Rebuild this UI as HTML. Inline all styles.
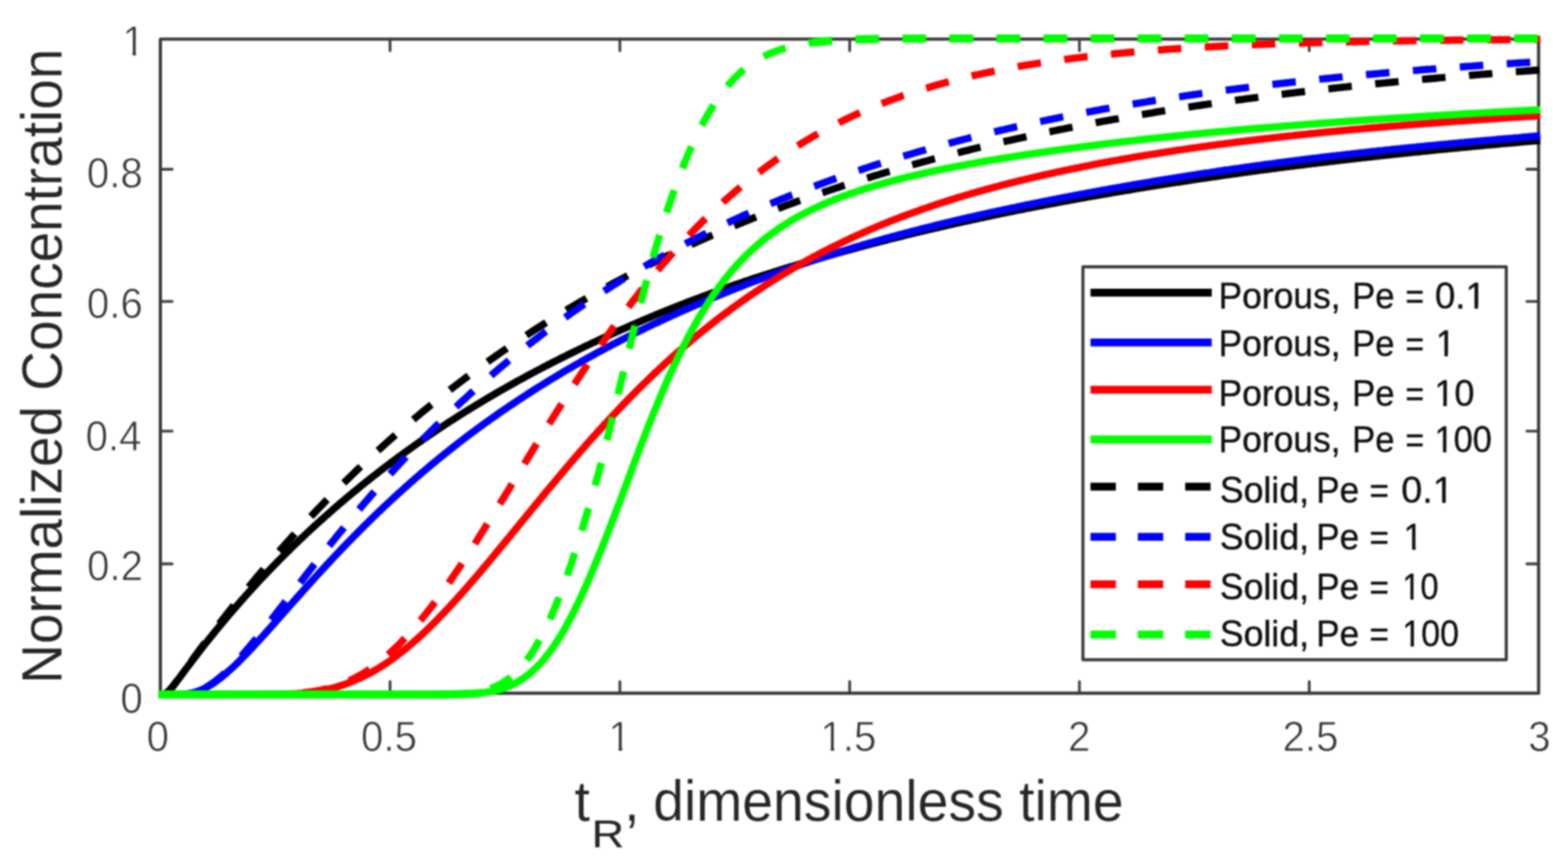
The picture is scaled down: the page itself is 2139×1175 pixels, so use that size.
<!DOCTYPE html>
<html lang="en">
<head>
<meta charset="utf-8">
<title>Normalized Concentration vs dimensionless time</title>
<style>
html,body{margin:0;padding:0;background:#fff;}
body{width:2139px;height:1175px;overflow:hidden;font-family:"Liberation Sans",Arial,Helvetica,sans-serif;}
svg{display:block;filter:blur(1.1px);}
</style>
</head>
<body>
<svg xmlns="http://www.w3.org/2000/svg" width="2139" height="1175" viewBox="0 0 2139 1175">
<rect width="2139" height="1175" fill="#ffffff"/>
<g fill="none" stroke-linejoin="round">
<path d="M532.1,946.05 v-16.0 M532.1,53.35 v16.0 M845.6,946.05 v-16.0 M845.6,53.35 v16.0 M1159.1,946.05 v-16.0 M1159.1,53.35 v16.0 M1472.5,946.05 v-16.0 M1472.5,53.35 v16.0 M1786.0,946.05 v-16.0 M1786.0,53.35 v16.0 M218.8,769.50 h16.0 M2098.9,769.50 h-16.0 M218.8,588.35 h16.0 M2098.9,588.35 h-16.0 M218.8,411.45 h16.0 M2098.9,411.45 h-16.0 M218.8,231.00 h16.0 M2098.9,231.00 h-16.0" stroke="#424242" stroke-width="3.8" stroke-linecap="round"/>
<rect x="218.8" y="53.35" width="1880.10" height="892.70" stroke="#3a3a3a" stroke-width="4.4"/>
</g>
<g font-family="'Liberation Sans', Arial, Helvetica, sans-serif" font-size="56.5" fill="#363636" stroke="#ffffff" stroke-width="0.9" stroke-linejoin="round">
<text><tspan x="199.88" y="1025.20" textLength="30.54" lengthAdjust="spacingAndGlyphs">0</tspan></text>
<text><tspan x="492.51" y="1025.20" textLength="76.34" lengthAdjust="spacingAndGlyphs">0.5</tspan></text>
<text><tspan x="830.09" y="1025.20" textLength="30.54" lengthAdjust="spacingAndGlyphs">1</tspan></text>
<text><tspan x="1119.34" y="1025.20" textLength="76.34" lengthAdjust="spacingAndGlyphs">1.5</tspan></text>
<text><tspan x="1457.08" y="1025.20" textLength="30.54" lengthAdjust="spacingAndGlyphs">2</tspan></text>
<text><tspan x="1749.45" y="1025.20" textLength="76.34" lengthAdjust="spacingAndGlyphs">2.5</tspan></text>
<text><tspan x="2084.84" y="1025.20" textLength="30.54" lengthAdjust="spacingAndGlyphs">3</tspan></text>
<text><tspan x="164.25" y="973.10" textLength="30.54" lengthAdjust="spacingAndGlyphs">0</tspan></text>
<text><tspan x="118.77" y="791.80" textLength="76.34" lengthAdjust="spacingAndGlyphs">0.2</tspan></text>
<text><tspan x="116.72" y="614.90" textLength="76.34" lengthAdjust="spacingAndGlyphs">0.4</tspan></text>
<text><tspan x="118.42" y="434.30" textLength="76.34" lengthAdjust="spacingAndGlyphs">0.6</tspan></text>
<text><tspan x="118.39" y="256.40" textLength="76.34" lengthAdjust="spacingAndGlyphs">0.8</tspan></text>
<text><tspan x="166.89" y="76.00" textLength="30.54" lengthAdjust="spacingAndGlyphs">1</tspan></text>
</g>
<g font-family="'Liberation Sans', Arial, Helvetica, sans-serif" font-size="77.0" fill="#262626" stroke="#ffffff" stroke-width="0.2" stroke-linejoin="round">
<text><tspan x="783.85" y="1120.00" textLength="21.03" lengthAdjust="spacingAndGlyphs">t</tspan><tspan font-size="52.3" stroke="#262626" stroke-width="0.3" x="806.99" y="1155.50" textLength="44.52" lengthAdjust="spacingAndGlyphs">R</tspan><tspan x="851.49" y="1120.00" textLength="21.03" lengthAdjust="spacingAndGlyphs">,</tspan> <tspan x="891.03" y="1120.00" textLength="641.72" lengthAdjust="spacingAndGlyphs">dimensionless time</tspan></text>
<text transform="translate(83.5 927.6) rotate(-90)" x="-5.55" y="0" textLength="866.82" lengthAdjust="spacingAndGlyphs">Normalized Concentration</text>
</g>
<g fill="none" stroke-linejoin="round" stroke-linecap="butt">
<path d="M216.6,947.7 L218.6,947.7 L221.7,947.6 L224.9,946.9 L228.0,944.9 L231.1,942.0 L234.3,938.5 L237.4,934.7 L240.5,930.6 L243.7,926.4 L246.8,922.2 L249.9,918.0 L253.1,913.8 L256.2,909.6 L259.4,905.5 L262.5,901.3 L265.6,897.2 L268.8,893.1 L271.9,889.0 L275.0,885.0 L278.2,881.0 L281.3,877.0 L284.4,873.1 L287.6,869.2 L290.7,865.3 L293.8,861.4 L297.0,857.6 L300.1,853.8 L303.2,850.0 L306.4,846.2 L309.5,842.5 L312.6,838.8 L315.8,835.2 L318.9,831.5 L322.1,827.9 L325.2,824.3 L328.3,820.7 L331.5,817.2 L334.6,813.6 L337.7,810.2 L340.9,806.7 L344.0,803.2 L347.1,799.8 L350.3,796.4 L353.4,793.0 L356.5,789.7 L359.7,786.3 L362.8,783.0 L365.9,779.7 L369.1,776.5 L372.2,773.2 L375.4,770.0 L378.5,766.8 L381.6,763.6 L384.8,760.4 L387.9,757.3 L391.0,754.2 L394.2,751.1 L397.3,748.0 L400.4,745.0 L403.6,741.9 L406.7,738.9 L409.8,735.9 L413.0,732.9 L416.1,730.0 L419.2,727.0 L422.4,724.1 L425.5,721.2 L428.6,718.3 L431.8,715.4 L434.9,712.6 L438.1,709.8 L441.2,707.0 L444.3,704.2 L447.5,701.4 L450.6,698.6 L453.7,695.9 L456.9,693.1 L460.0,690.4 L463.1,687.7 L466.3,685.1 L469.4,682.4 L472.5,679.7 L475.7,677.1 L478.8,674.5 L481.9,671.9 L485.1,669.3 L488.2,666.8 L491.3,664.2 L494.5,661.7 L497.6,659.1 L500.8,656.6 L503.9,654.1 L507.0,651.7 L510.2,649.2 L513.3,646.8 L516.4,644.3 L519.6,641.9 L522.7,639.5 L525.8,637.1 L529.0,634.7 L532.1,632.4 L535.2,630.0 L538.4,627.7 L541.5,625.3 L544.6,623.0 L547.8,620.7 L550.9,618.5 L554.0,616.2 L557.2,613.9 L560.3,611.7 L563.5,609.5 L566.6,607.2 L569.7,605.0 L572.9,602.8 L576.0,600.7 L579.1,598.5 L582.3,596.3 L585.4,594.2 L588.5,592.0 L591.7,589.9 L594.8,587.8 L597.9,585.7 L601.1,583.6 L604.2,581.6 L607.3,579.5 L610.5,577.4 L613.6,575.4 L616.7,573.4 L619.9,571.4 L623.0,569.4 L626.1,567.4 L629.3,565.4 L632.4,563.4 L635.6,561.4 L638.7,559.5 L641.8,557.6 L645.0,555.6 L648.1,553.7 L651.2,551.8 L654.4,549.9 L657.5,548.0 L660.6,546.1 L663.8,544.3 L666.9,542.4 L670.0,540.6 L673.2,538.7 L676.3,536.9 L679.4,535.1 L682.6,533.3 L685.7,531.5 L688.9,529.7 L692.0,527.9 L695.1,526.2 L698.3,524.4 L701.4,522.7 L704.5,520.9 L707.7,519.2 L710.8,517.5 L713.9,515.8 L717.1,514.0 L720.2,512.4 L723.3,510.7 L726.5,509.0 L729.6,507.3 L732.7,505.7 L735.9,504.0 L739.0,502.4 L742.1,500.7 L745.3,499.1 L748.4,497.5 L751.5,495.9 L754.7,494.3 L757.8,492.7 L761.0,491.1 L764.1,489.5 L767.2,487.9 L770.4,486.4 L773.5,484.8 L776.6,483.3 L779.8,481.7 L782.9,480.2 L786.0,478.7 L789.2,477.1 L792.3,475.6 L795.4,474.1 L798.6,472.6 L801.7,471.1 L804.8,469.6 L808.0,468.1 L811.1,466.7 L814.3,465.2 L817.4,463.7 L820.5,462.3 L823.7,460.8 L826.8,459.4 L829.9,457.9 L833.1,456.5 L836.2,455.1 L839.3,453.7 L842.5,452.3 L845.6,450.8 L848.7,449.4 L851.9,448.1 L855.0,446.7 L858.1,445.3 L861.3,443.9 L864.4,442.5 L867.5,441.2 L870.7,439.8 L873.8,438.5 L877.0,437.1 L880.1,435.8 L883.2,434.5 L886.4,433.2 L889.5,431.8 L892.6,430.5 L895.8,429.2 L898.9,427.9 L902.0,426.7 L905.2,425.4 L908.3,424.1 L911.4,422.8 L914.6,421.6 L917.7,420.3 L920.8,419.1 L924.0,417.8 L927.1,416.6 L930.2,415.4 L933.4,414.2 L936.5,412.9 L939.7,411.7 L942.8,410.5 L945.9,409.3 L949.1,408.2 L952.2,407.0 L955.3,405.8 L958.5,404.6 L961.6,403.5 L964.7,402.3 L967.9,401.1 L971.0,400.0 L974.1,398.9 L977.3,397.7 L980.4,396.6 L983.5,395.5 L986.7,394.3 L989.8,393.2 L992.9,392.1 L996.1,391.0 L999.2,389.9 L1002.4,388.8 L1005.5,387.7 L1008.6,386.7 L1011.8,385.6 L1014.9,384.5 L1018.0,383.4 L1021.2,382.4 L1024.3,381.3 L1027.4,380.3 L1030.6,379.2 L1033.7,378.2 L1036.8,377.2 L1040.0,376.1 L1043.1,375.1 L1046.2,374.1 L1049.4,373.1 L1052.5,372.1 L1055.6,371.1 L1058.8,370.1 L1061.9,369.2 L1065.0,368.2 L1068.2,367.2 L1071.3,366.2 L1074.5,365.3 L1077.6,364.3 L1080.7,363.4 L1083.9,362.4 L1087.0,361.5 L1090.1,360.6 L1093.3,359.6 L1096.4,358.7 L1099.5,357.8 L1102.7,356.9 L1105.8,355.9 L1108.9,355.0 L1112.1,354.1 L1115.2,353.2 L1118.3,352.3 L1121.5,351.4 L1124.6,350.5 L1127.8,349.7 L1130.9,348.8 L1134.0,347.9 L1137.2,347.0 L1140.3,346.1 L1143.4,345.3 L1146.6,344.4 L1149.7,343.5 L1152.8,342.7 L1156.0,341.8 L1159.1,340.9 L1162.2,340.1 L1165.4,339.2 L1168.5,338.4 L1171.6,337.5 L1174.8,336.7 L1177.9,335.8 L1181.0,335.0 L1184.2,334.2 L1187.3,333.3 L1190.5,332.5 L1193.6,331.7 L1196.7,330.9 L1199.9,330.0 L1203.0,329.2 L1206.1,328.4 L1209.3,327.6 L1212.4,326.8 L1215.5,326.0 L1218.7,325.2 L1221.8,324.4 L1224.9,323.7 L1228.1,322.9 L1231.2,322.1 L1234.3,321.3 L1237.5,320.5 L1240.6,319.8 L1243.7,319.0 L1246.9,318.2 L1250.0,317.5 L1253.2,316.7 L1256.3,316.0 L1259.4,315.2 L1262.6,314.5 L1265.7,313.7 L1268.8,313.0 L1272.0,312.3 L1275.1,311.5 L1278.2,310.8 L1281.4,310.1 L1284.5,309.3 L1287.6,308.6 L1290.8,307.9 L1293.9,307.2 L1297.0,306.5 L1300.2,305.8 L1303.3,305.0 L1306.4,304.3 L1309.6,303.6 L1312.7,302.9 L1315.8,302.2 L1319.0,301.6 L1322.1,300.9 L1325.3,300.2 L1328.4,299.5 L1331.5,298.8 L1334.7,298.1 L1337.8,297.5 L1340.9,296.8 L1344.1,296.1 L1347.2,295.5 L1350.3,294.8 L1353.5,294.1 L1356.6,293.5 L1359.7,292.8 L1362.9,292.2 L1366.0,291.5 L1369.1,290.9 L1372.3,290.2 L1375.4,289.6 L1378.5,288.9 L1381.7,288.3 L1384.8,287.7 L1388.0,287.0 L1391.1,286.4 L1394.2,285.8 L1397.4,285.2 L1400.5,284.5 L1403.6,283.9 L1406.8,283.3 L1409.9,282.7 L1413.0,282.1 L1416.2,281.5 L1419.3,280.9 L1422.4,280.3 L1425.6,279.7 L1428.7,279.1 L1431.8,278.5 L1435.0,277.9 L1438.1,277.3 L1441.2,276.7 L1444.4,276.1 L1447.5,275.5 L1450.7,274.9 L1453.8,274.4 L1456.9,273.8 L1460.1,273.2 L1463.2,272.6 L1466.3,272.1 L1469.5,271.5 L1472.6,270.9 L1475.7,270.4 L1478.9,269.8 L1482.0,269.2 L1485.1,268.7 L1488.3,268.1 L1491.4,267.6 L1494.5,267.0 L1497.7,266.5 L1500.8,265.9 L1503.9,265.4 L1507.1,264.8 L1510.2,264.3 L1513.4,263.8 L1516.5,263.2 L1519.6,262.7 L1522.8,262.1 L1525.9,261.6 L1529.0,261.1 L1532.2,260.6 L1535.3,260.0 L1538.4,259.5 L1541.6,259.0 L1544.7,258.5 L1547.8,257.9 L1551.0,257.4 L1554.1,256.9 L1557.2,256.4 L1560.4,255.9 L1563.5,255.4 L1566.6,254.9 L1569.8,254.4 L1572.9,253.9 L1576.1,253.4 L1579.2,252.9 L1582.3,252.4 L1585.5,251.9 L1588.6,251.4 L1591.7,250.9 L1594.9,250.4 L1598.0,249.9 L1601.1,249.4 L1604.3,248.9 L1607.4,248.5 L1610.5,248.0 L1613.7,247.5 L1616.8,247.0 L1619.9,246.5 L1623.1,246.1 L1626.2,245.6 L1629.3,245.1 L1632.5,244.7 L1635.6,244.2 L1638.8,243.7 L1641.9,243.3 L1645.0,242.8 L1648.2,242.3 L1651.3,241.9 L1654.4,241.4 L1657.6,241.0 L1660.7,240.5 L1663.8,240.1 L1667.0,239.6 L1670.1,239.2 L1673.2,238.7 L1676.4,238.3 L1679.5,237.8 L1682.6,237.4 L1685.8,237.0 L1688.9,236.5 L1692.0,236.1 L1695.2,235.6 L1698.3,235.2 L1701.5,234.8 L1704.6,234.4 L1707.7,233.9 L1710.9,233.5 L1714.0,233.1 L1717.1,232.7 L1720.3,232.2 L1723.4,231.8 L1726.5,231.4 L1729.7,231.0 L1732.8,230.6 L1735.9,230.2 L1739.1,229.8 L1742.2,229.3 L1745.3,228.9 L1748.5,228.5 L1751.6,228.1 L1754.8,227.7 L1757.9,227.3 L1761.0,226.9 L1764.2,226.5 L1767.3,226.1 L1770.4,225.7 L1773.6,225.4 L1776.7,225.0 L1779.8,224.6 L1783.0,224.2 L1786.1,223.8 L1789.2,223.4 L1792.4,223.0 L1795.5,222.7 L1798.6,222.3 L1801.8,221.9 L1804.9,221.5 L1808.0,221.2 L1811.2,220.8 L1814.3,220.4 L1817.5,220.0 L1820.6,219.7 L1823.7,219.3 L1826.9,218.9 L1830.0,218.6 L1833.1,218.2 L1836.3,217.9 L1839.4,217.5 L1842.5,217.1 L1845.7,216.8 L1848.8,216.4 L1851.9,216.1 L1855.1,215.7 L1858.2,215.4 L1861.3,215.0 L1864.5,214.7 L1867.6,214.3 L1870.7,214.0 L1873.9,213.6 L1877.0,213.3 L1880.1,212.9 L1883.3,212.6 L1886.4,212.2 L1889.6,211.9 L1892.7,211.6 L1895.8,211.2 L1899.0,210.9 L1902.1,210.6 L1905.2,210.2 L1908.4,209.9 L1911.5,209.6 L1914.6,209.2 L1917.8,208.9 L1920.9,208.6 L1924.0,208.3 L1927.2,207.9 L1930.3,207.6 L1933.4,207.3 L1936.6,207.0 L1939.7,206.6 L1942.8,206.3 L1946.0,206.0 L1949.1,205.7 L1952.3,205.4 L1955.4,205.1 L1958.5,204.7 L1961.7,204.4 L1964.8,204.1 L1967.9,203.8 L1971.1,203.5 L1974.2,203.2 L1977.3,202.9 L1980.5,202.6 L1983.6,202.3 L1986.7,202.0 L1989.9,201.7 L1993.0,201.4 L1996.1,201.1 L1999.3,200.8 L2002.4,200.5 L2005.5,200.2 L2008.7,199.9 L2011.8,199.6 L2015.0,199.3 L2018.1,199.0 L2021.2,198.7 L2024.4,198.4 L2027.5,198.1 L2030.6,197.8 L2033.8,197.6 L2036.9,197.3 L2040.0,197.0 L2043.2,196.7 L2046.3,196.4 L2049.4,196.1 L2052.6,195.9 L2055.7,195.6 L2058.8,195.3 L2062.0,195.0 L2065.1,194.7 L2068.2,194.5 L2071.4,194.2 L2074.5,193.9 L2077.7,193.6 L2080.8,193.4 L2083.9,193.1 L2087.1,192.8 L2090.2,192.5 L2093.3,192.3 L2096.5,192.0 L2099.6,191.7 L2101.3,191.6" stroke="#000000" stroke-width="9.9"/>
<path d="M216.6,947.7 L218.6,947.7 L221.7,947.7 L224.9,947.0 L228.0,945.0 L231.1,942.1 L234.3,938.5 L237.4,934.6 L240.5,930.5 L243.7,926.2 L246.8,921.9 L249.9,917.6 L253.1,913.3 L256.2,908.9 L259.4,904.6 L262.5,900.3 L265.6,896.0 L268.8,891.7 L271.9,887.5 L275.0,883.2 L278.2,879.0 L281.3,874.8 L284.4,870.7 L287.6,866.5 L290.7,862.4 L293.8,858.3 L297.0,854.2 L300.1,850.1 L303.2,846.1 L306.4,842.1 L309.5,838.1 L312.6,834.1 L315.8,830.1 L318.9,826.2 L322.1,822.2 L325.2,818.3 L328.3,814.5 L331.5,810.6 L334.6,806.8 L337.7,802.9 L340.9,799.1 L344.0,795.3 L347.1,791.6 L350.3,787.8 L353.4,784.1 L356.5,780.4 L359.7,776.7 L362.8,773.0 L365.9,769.4 L369.1,765.7 L372.2,762.1 L375.4,758.5 L378.5,754.9 L381.6,751.4 L384.8,747.8 L387.9,744.3 L391.0,740.8 L394.2,737.3 L397.3,733.8 L400.4,730.4 L403.6,726.9 L406.7,723.5 L409.8,720.1 L413.0,716.7 L416.1,713.4 L419.2,710.0 L422.4,706.7 L425.5,703.4 L428.6,700.1 L431.8,696.8 L434.9,693.5 L438.1,690.3 L441.2,687.0 L444.3,683.8 L447.5,680.6 L450.6,677.4 L453.7,674.3 L456.9,671.1 L460.0,668.0 L463.1,664.8 L466.3,661.7 L469.4,658.7 L472.5,655.6 L475.7,652.5 L478.8,649.5 L481.9,646.5 L485.1,643.4 L488.2,640.4 L491.3,637.5 L494.5,634.5 L497.6,631.5 L500.8,628.6 L503.9,625.7 L507.0,622.8 L510.2,619.9 L513.3,617.0 L516.4,614.2 L519.6,611.3 L522.7,608.5 L525.8,605.7 L529.0,602.8 L532.1,600.1 L535.2,597.3 L538.4,594.5 L541.5,591.8 L544.6,589.0 L547.8,586.3 L550.9,583.6 L554.0,580.9 L557.2,578.2 L560.3,575.6 L563.5,572.9 L566.6,570.3 L569.7,567.7 L572.9,565.0 L576.0,562.4 L579.1,559.9 L582.3,557.3 L585.4,554.7 L588.5,552.2 L591.7,549.6 L594.8,547.1 L597.9,544.6 L601.1,542.1 L604.2,539.6 L607.3,537.2 L610.5,534.7 L613.6,532.3 L616.7,529.8 L619.9,527.4 L623.0,525.0 L626.1,522.6 L629.3,520.2 L632.4,517.8 L635.6,515.5 L638.7,513.1 L641.8,510.8 L645.0,508.5 L648.1,506.2 L651.2,503.9 L654.4,501.6 L657.5,499.3 L660.6,497.0 L663.8,494.8 L666.9,492.5 L670.0,490.3 L673.2,488.1 L676.3,485.9 L679.4,483.7 L682.6,481.5 L685.7,479.3 L688.9,477.2 L692.0,475.0 L695.1,472.9 L698.3,470.7 L701.4,468.6 L704.5,466.5 L707.7,464.4 L710.8,462.3 L713.9,460.2 L717.1,458.2 L720.2,456.1 L723.3,454.1 L726.5,452.0 L729.6,450.0 L732.7,448.0 L735.9,446.0 L739.0,444.0 L742.1,442.0 L745.3,440.0 L748.4,438.1 L751.5,436.1 L754.7,434.2 L757.8,432.2 L761.0,430.3 L764.1,428.4 L767.2,426.5 L770.4,424.6 L773.5,422.7 L776.6,420.8 L779.8,418.9 L782.9,417.1 L786.0,415.2 L789.2,413.4 L792.3,411.6 L795.4,409.8 L798.6,407.9 L801.7,406.1 L804.8,404.3 L808.0,402.6 L811.1,400.8 L814.3,399.0 L817.4,397.3 L820.5,395.5 L823.7,393.8 L826.8,392.0 L829.9,390.3 L833.1,388.6 L836.2,386.9 L839.3,385.2 L842.5,383.5 L845.6,381.8 L848.7,380.2 L851.9,378.5 L855.0,376.9 L858.1,375.2 L861.3,373.6 L864.4,372.0 L867.5,370.3 L870.7,368.7 L873.8,367.1 L877.0,365.5 L880.1,363.9 L883.2,362.4 L886.4,360.8 L889.5,359.2 L892.6,357.7 L895.8,356.1 L898.9,354.6 L902.0,353.0 L905.2,351.5 L908.3,350.0 L911.4,348.5 L914.6,347.0 L917.7,345.5 L920.8,344.0 L924.0,342.5 L927.1,341.1 L930.2,339.6 L933.4,338.1 L936.5,336.7 L939.7,335.3 L942.8,333.8 L945.9,332.4 L949.1,331.0 L952.2,329.6 L955.3,328.2 L958.5,326.8 L961.6,325.4 L964.7,324.0 L967.9,322.6 L971.0,321.2 L974.1,319.9 L977.3,318.5 L980.4,317.2 L983.5,315.8 L986.7,314.5 L989.8,313.2 L992.9,311.8 L996.1,310.5 L999.2,309.2 L1002.4,307.9 L1005.5,306.6 L1008.6,305.3 L1011.8,304.1 L1014.9,302.8 L1018.0,301.5 L1021.2,300.3 L1024.3,299.0 L1027.4,297.7 L1030.6,296.5 L1033.7,295.3 L1036.8,294.0 L1040.0,292.8 L1043.1,291.6 L1046.2,290.4 L1049.4,289.2 L1052.5,288.0 L1055.6,286.8 L1058.8,285.6 L1061.9,284.4 L1065.0,283.2 L1068.2,282.1 L1071.3,280.9 L1074.5,279.7 L1077.6,278.6 L1080.7,277.4 L1083.9,276.3 L1087.0,275.2 L1090.1,274.0 L1093.3,272.9 L1096.4,271.8 L1099.5,270.7 L1102.7,269.6 L1105.8,268.5 L1108.9,267.4 L1112.1,266.3 L1115.2,265.2 L1118.3,264.1 L1121.5,263.1 L1124.6,262.0 L1127.8,260.9 L1130.9,259.9 L1134.0,258.8 L1137.2,257.8 L1140.3,256.7 L1143.4,255.7 L1146.6,254.7 L1149.7,253.6 L1152.8,252.6 L1156.0,251.6 L1159.1,250.6 L1162.2,249.6 L1165.4,248.6 L1168.5,247.6 L1171.6,246.6 L1174.8,245.6 L1177.9,244.6 L1181.0,243.7 L1184.2,242.7 L1187.3,241.7 L1190.5,240.8 L1193.6,239.8 L1196.7,238.9 L1199.9,237.9 L1203.0,237.0 L1206.1,236.1 L1209.3,235.1 L1212.4,234.2 L1215.5,233.3 L1218.7,232.4 L1221.8,231.4 L1224.9,230.5 L1228.1,229.6 L1231.2,228.7 L1234.3,227.8 L1237.5,227.0 L1240.6,226.1 L1243.7,225.2 L1246.9,224.3 L1250.0,223.4 L1253.2,222.6 L1256.3,221.7 L1259.4,220.9 L1262.6,220.0 L1265.7,219.2 L1268.8,218.3 L1272.0,217.5 L1275.1,216.6 L1278.2,215.8 L1281.4,215.0 L1284.5,214.1 L1287.6,213.3 L1290.8,212.5 L1293.9,211.7 L1297.0,210.9 L1300.2,210.1 L1303.3,209.3 L1306.4,208.5 L1309.6,207.7 L1312.7,206.9 L1315.8,206.1 L1319.0,205.4 L1322.1,204.6 L1325.3,203.8 L1328.4,203.0 L1331.5,202.3 L1334.7,201.5 L1337.8,200.8 L1340.9,200.0 L1344.1,199.3 L1347.2,198.5 L1350.3,197.8 L1353.5,197.0 L1356.6,196.3 L1359.7,195.6 L1362.9,194.9 L1366.0,194.1 L1369.1,193.4 L1372.3,192.7 L1375.4,192.0 L1378.5,191.3 L1381.7,190.6 L1384.8,189.9 L1388.0,189.2 L1391.1,188.5 L1394.2,187.8 L1397.4,187.1 L1400.5,186.4 L1403.6,185.7 L1406.8,185.1 L1409.9,184.4 L1413.0,183.7 L1416.2,183.1 L1419.3,182.4 L1422.4,181.7 L1425.6,181.1 L1428.7,180.4 L1431.8,179.8 L1435.0,179.1 L1438.1,178.5 L1441.2,177.9 L1444.4,177.2 L1447.5,176.6 L1450.7,176.0 L1453.8,175.3 L1456.9,174.7 L1460.1,174.1 L1463.2,173.5 L1466.3,172.9 L1469.5,172.3 L1472.6,171.6 L1475.7,171.0 L1478.9,170.4 L1482.0,169.8 L1485.1,169.3 L1488.3,168.7 L1491.4,168.1 L1494.5,167.5 L1497.7,166.9 L1500.8,166.3 L1503.9,165.7 L1507.1,165.2 L1510.2,164.6 L1513.4,164.0 L1516.5,163.5 L1519.6,162.9 L1522.8,162.3 L1525.9,161.8 L1529.0,161.2 L1532.2,160.7 L1535.3,160.1 L1538.4,159.6 L1541.6,159.0 L1544.7,158.5 L1547.8,158.0 L1551.0,157.4 L1554.1,156.9 L1557.2,156.4 L1560.4,155.8 L1563.5,155.3 L1566.6,154.8 L1569.8,154.3 L1572.9,153.8 L1576.1,153.2 L1579.2,152.7 L1582.3,152.2 L1585.5,151.7 L1588.6,151.2 L1591.7,150.7 L1594.9,150.2 L1598.0,149.7 L1601.1,149.2 L1604.3,148.7 L1607.4,148.3 L1610.5,147.8 L1613.7,147.3 L1616.8,146.8 L1619.9,146.3 L1623.1,145.9 L1626.2,145.4 L1629.3,144.9 L1632.5,144.4 L1635.6,144.0 L1638.8,143.5 L1641.9,143.0 L1645.0,142.6 L1648.2,142.1 L1651.3,141.7 L1654.4,141.2 L1657.6,140.8 L1660.7,140.3 L1663.8,139.9 L1667.0,139.4 L1670.1,139.0 L1673.2,138.6 L1676.4,138.1 L1679.5,137.7 L1682.6,137.3 L1685.8,136.8 L1688.9,136.4 L1692.0,136.0 L1695.2,135.6 L1698.3,135.1 L1701.5,134.7 L1704.6,134.3 L1707.7,133.9 L1710.9,133.5 L1714.0,133.1 L1717.1,132.6 L1720.3,132.2 L1723.4,131.8 L1726.5,131.4 L1729.7,131.0 L1732.8,130.6 L1735.9,130.2 L1739.1,129.8 L1742.2,129.5 L1745.3,129.1 L1748.5,128.7 L1751.6,128.3 L1754.8,127.9 L1757.9,127.5 L1761.0,127.1 L1764.2,126.8 L1767.3,126.4 L1770.4,126.0 L1773.6,125.6 L1776.7,125.3 L1779.8,124.9 L1783.0,124.5 L1786.1,124.2 L1789.2,123.8 L1792.4,123.4 L1795.5,123.1 L1798.6,122.7 L1801.8,122.4 L1804.9,122.0 L1808.0,121.7 L1811.2,121.3 L1814.3,121.0 L1817.5,120.6 L1820.6,120.3 L1823.7,119.9 L1826.9,119.6 L1830.0,119.2 L1833.1,118.9 L1836.3,118.6 L1839.4,118.2 L1842.5,117.9 L1845.7,117.6 L1848.8,117.2 L1851.9,116.9 L1855.1,116.6 L1858.2,116.3 L1861.3,115.9 L1864.5,115.6 L1867.6,115.3 L1870.7,115.0 L1873.9,114.7 L1877.0,114.3 L1880.1,114.0 L1883.3,113.7 L1886.4,113.4 L1889.6,113.1 L1892.7,112.8 L1895.8,112.5 L1899.0,112.2 L1902.1,111.9 L1905.2,111.6 L1908.4,111.3 L1911.5,111.0 L1914.6,110.7 L1917.8,110.4 L1920.9,110.1 L1924.0,109.8 L1927.2,109.5 L1930.3,109.2 L1933.4,108.9 L1936.6,108.6 L1939.7,108.4 L1942.8,108.1 L1946.0,107.8 L1949.1,107.5 L1952.3,107.2 L1955.4,107.0 L1958.5,106.7 L1961.7,106.4 L1964.8,106.1 L1967.9,105.9 L1971.1,105.6 L1974.2,105.3 L1977.3,105.1 L1980.5,104.8 L1983.6,104.5 L1986.7,104.3 L1989.9,104.0 L1993.0,103.7 L1996.1,103.5 L1999.3,103.2 L2002.4,103.0 L2005.5,102.7 L2008.7,102.5 L2011.8,102.2 L2015.0,101.9 L2018.1,101.7 L2021.2,101.4 L2024.4,101.2 L2027.5,101.0 L2030.6,100.7 L2033.8,100.5 L2036.9,100.2 L2040.0,100.0 L2043.2,99.7 L2046.3,99.5 L2049.4,99.3 L2052.6,99.0 L2055.7,98.8 L2058.8,98.6 L2062.0,98.3 L2065.1,98.1 L2068.2,97.9 L2071.4,97.6 L2074.5,97.4 L2077.7,97.2 L2080.8,96.9 L2083.9,96.7 L2087.1,96.5 L2090.2,96.3 L2093.3,96.0 L2096.5,95.8 L2099.6,95.6 L2101.3,95.5" stroke="#000000" stroke-width="9.9" stroke-dasharray="32.1 32.1" stroke-dashoffset="62.93"/>
<path d="M216.6,947.7 L218.6,947.7 L221.7,947.7 L224.9,947.7 L228.0,947.7 L231.1,947.7 L234.3,947.7 L237.4,947.7 L240.5,947.7 L243.7,947.6 L246.8,947.5 L249.9,947.3 L253.1,947.1 L256.2,946.7 L259.4,946.2 L262.5,945.5 L265.6,944.7 L268.8,943.7 L271.9,942.6 L275.0,941.3 L278.2,939.9 L281.3,938.3 L284.4,936.5 L287.6,934.6 L290.7,932.6 L293.8,930.4 L297.0,928.1 L300.1,925.8 L303.2,923.3 L306.4,920.7 L309.5,918.0 L312.6,915.2 L315.8,912.4 L318.9,909.5 L322.1,906.5 L325.2,903.4 L328.3,900.3 L331.5,897.1 L334.6,893.9 L337.7,890.6 L340.9,887.3 L344.0,884.0 L347.1,880.6 L350.3,877.2 L353.4,873.8 L356.5,870.3 L359.7,866.9 L362.8,863.4 L365.9,859.9 L369.1,856.4 L372.2,852.8 L375.4,849.3 L378.5,845.8 L381.6,842.2 L384.8,838.7 L387.9,835.1 L391.0,831.6 L394.2,828.0 L397.3,824.5 L400.4,821.0 L403.6,817.4 L406.7,813.9 L409.8,810.4 L413.0,806.9 L416.1,803.4 L419.2,799.9 L422.4,796.4 L425.5,792.9 L428.6,789.5 L431.8,786.0 L434.9,782.6 L438.1,779.2 L441.2,775.8 L444.3,772.4 L447.5,769.0 L450.6,765.6 L453.7,762.3 L456.9,758.9 L460.0,755.6 L463.1,752.3 L466.3,749.0 L469.4,745.8 L472.5,742.5 L475.7,739.3 L478.8,736.1 L481.9,732.9 L485.1,729.7 L488.2,726.5 L491.3,723.4 L494.5,720.2 L497.6,717.1 L500.8,714.0 L503.9,710.9 L507.0,707.9 L510.2,704.8 L513.3,701.8 L516.4,698.8 L519.6,695.8 L522.7,692.8 L525.8,689.8 L529.0,686.9 L532.1,684.0 L535.2,681.1 L538.4,678.2 L541.5,675.3 L544.6,672.5 L547.8,669.6 L550.9,666.8 L554.0,664.0 L557.2,661.2 L560.3,658.4 L563.5,655.7 L566.6,652.9 L569.7,650.2 L572.9,647.5 L576.0,644.8 L579.1,642.2 L582.3,639.5 L585.4,636.9 L588.5,634.2 L591.7,631.6 L594.8,629.1 L597.9,626.5 L601.1,623.9 L604.2,621.4 L607.3,618.9 L610.5,616.3 L613.6,613.9 L616.7,611.4 L619.9,608.9 L623.0,606.5 L626.1,604.0 L629.3,601.6 L632.4,599.2 L635.6,596.8 L638.7,594.4 L641.8,592.1 L645.0,589.7 L648.1,587.4 L651.2,585.1 L654.4,582.8 L657.5,580.5 L660.6,578.2 L663.8,576.0 L666.9,573.7 L670.0,571.5 L673.2,569.3 L676.3,567.1 L679.4,564.9 L682.6,562.7 L685.7,560.5 L688.9,558.4 L692.0,556.2 L695.1,554.1 L698.3,552.0 L701.4,549.9 L704.5,547.8 L707.7,545.7 L710.8,543.7 L713.9,541.6 L717.1,539.6 L720.2,537.5 L723.3,535.5 L726.5,533.5 L729.6,531.5 L732.7,529.5 L735.9,527.6 L739.0,525.6 L742.1,523.7 L745.3,521.7 L748.4,519.8 L751.5,517.9 L754.7,516.0 L757.8,514.1 L761.0,512.2 L764.1,510.3 L767.2,508.5 L770.4,506.6 L773.5,504.8 L776.6,502.9 L779.8,501.1 L782.9,499.3 L786.0,497.5 L789.2,495.7 L792.3,493.9 L795.4,492.2 L798.6,490.4 L801.7,488.6 L804.8,486.9 L808.0,485.2 L811.1,483.4 L814.3,481.7 L817.4,480.0 L820.5,478.3 L823.7,476.7 L826.8,475.0 L829.9,473.3 L833.1,471.7 L836.2,470.0 L839.3,468.4 L842.5,466.8 L845.6,465.1 L848.7,463.5 L851.9,461.9 L855.0,460.4 L858.1,458.8 L861.3,457.2 L864.4,455.6 L867.5,454.1 L870.7,452.5 L873.8,451.0 L877.0,449.5 L880.1,447.9 L883.2,446.4 L886.4,444.9 L889.5,443.4 L892.6,441.9 L895.8,440.5 L898.9,439.0 L902.0,437.5 L905.2,436.1 L908.3,434.6 L911.4,433.2 L914.6,431.7 L917.7,430.3 L920.8,428.9 L924.0,427.5 L927.1,426.1 L930.2,424.7 L933.4,423.3 L936.5,421.9 L939.7,420.6 L942.8,419.2 L945.9,417.8 L949.1,416.5 L952.2,415.1 L955.3,413.8 L958.5,412.4 L961.6,411.1 L964.7,409.8 L967.9,408.4 L971.0,407.1 L974.1,405.8 L977.3,404.5 L980.4,403.2 L983.5,401.9 L986.7,400.6 L989.8,399.3 L992.9,398.1 L996.1,396.8 L999.2,395.5 L1002.4,394.3 L1005.5,393.0 L1008.6,391.8 L1011.8,390.6 L1014.9,389.3 L1018.0,388.1 L1021.2,386.9 L1024.3,385.7 L1027.4,384.5 L1030.6,383.3 L1033.7,382.1 L1036.8,381.0 L1040.0,379.8 L1043.1,378.6 L1046.2,377.5 L1049.4,376.3 L1052.5,375.2 L1055.6,374.0 L1058.8,372.9 L1061.9,371.8 L1065.0,370.7 L1068.2,369.5 L1071.3,368.4 L1074.5,367.3 L1077.6,366.2 L1080.7,365.1 L1083.9,364.1 L1087.0,363.0 L1090.1,361.9 L1093.3,360.8 L1096.4,359.8 L1099.5,358.7 L1102.7,357.7 L1105.8,356.6 L1108.9,355.6 L1112.1,354.5 L1115.2,353.5 L1118.3,352.5 L1121.5,351.5 L1124.6,350.5 L1127.8,349.4 L1130.9,348.4 L1134.0,347.4 L1137.2,346.5 L1140.3,345.5 L1143.4,344.5 L1146.6,343.5 L1149.7,342.6 L1152.8,341.6 L1156.0,340.6 L1159.1,339.7 L1162.2,338.7 L1165.4,337.8 L1168.5,336.8 L1171.6,335.9 L1174.8,335.0 L1177.9,334.1 L1181.0,333.2 L1184.2,332.2 L1187.3,331.3 L1190.5,330.4 L1193.6,329.5 L1196.7,328.7 L1199.9,327.8 L1203.0,326.9 L1206.1,326.0 L1209.3,325.1 L1212.4,324.3 L1215.5,323.4 L1218.7,322.6 L1221.8,321.7 L1224.9,320.9 L1228.1,320.0 L1231.2,319.2 L1234.3,318.4 L1237.5,317.5 L1240.6,316.7 L1243.7,315.9 L1246.9,315.1 L1250.0,314.3 L1253.2,313.4 L1256.3,312.6 L1259.4,311.8 L1262.6,311.1 L1265.7,310.3 L1268.8,309.5 L1272.0,308.7 L1275.1,307.9 L1278.2,307.1 L1281.4,306.4 L1284.5,305.6 L1287.6,304.9 L1290.8,304.1 L1293.9,303.3 L1297.0,302.6 L1300.2,301.8 L1303.3,301.1 L1306.4,300.4 L1309.6,299.6 L1312.7,298.9 L1315.8,298.2 L1319.0,297.4 L1322.1,296.7 L1325.3,296.0 L1328.4,295.3 L1331.5,294.6 L1334.7,293.9 L1337.8,293.2 L1340.9,292.5 L1344.1,291.8 L1347.2,291.1 L1350.3,290.4 L1353.5,289.7 L1356.6,289.0 L1359.7,288.3 L1362.9,287.6 L1366.0,287.0 L1369.1,286.3 L1372.3,285.6 L1375.4,285.0 L1378.5,284.3 L1381.7,283.6 L1384.8,283.0 L1388.0,282.3 L1391.1,281.7 L1394.2,281.0 L1397.4,280.4 L1400.5,279.7 L1403.6,279.1 L1406.8,278.4 L1409.9,277.8 L1413.0,277.2 L1416.2,276.5 L1419.3,275.9 L1422.4,275.3 L1425.6,274.7 L1428.7,274.0 L1431.8,273.4 L1435.0,272.8 L1438.1,272.2 L1441.2,271.6 L1444.4,270.9 L1447.5,270.3 L1450.7,269.7 L1453.8,269.1 L1456.9,268.5 L1460.1,267.9 L1463.2,267.3 L1466.3,266.7 L1469.5,266.1 L1472.6,265.5 L1475.7,265.0 L1478.9,264.4 L1482.0,263.8 L1485.1,263.2 L1488.3,262.6 L1491.4,262.0 L1494.5,261.5 L1497.7,260.9 L1500.8,260.3 L1503.9,259.7 L1507.1,259.2 L1510.2,258.6 L1513.4,258.0 L1516.5,257.5 L1519.6,256.9 L1522.8,256.4 L1525.9,255.8 L1529.0,255.3 L1532.2,254.7 L1535.3,254.2 L1538.4,253.6 L1541.6,253.1 L1544.7,252.5 L1547.8,252.0 L1551.0,251.4 L1554.1,250.9 L1557.2,250.4 L1560.4,249.8 L1563.5,249.3 L1566.6,248.8 L1569.8,248.3 L1572.9,247.7 L1576.1,247.2 L1579.2,246.7 L1582.3,246.2 L1585.5,245.7 L1588.6,245.1 L1591.7,244.6 L1594.9,244.1 L1598.0,243.6 L1601.1,243.1 L1604.3,242.6 L1607.4,242.1 L1610.5,241.6 L1613.7,241.1 L1616.8,240.6 L1619.9,240.1 L1623.1,239.6 L1626.2,239.1 L1629.3,238.6 L1632.5,238.2 L1635.6,237.7 L1638.8,237.2 L1641.9,236.7 L1645.0,236.2 L1648.2,235.8 L1651.3,235.3 L1654.4,234.8 L1657.6,234.4 L1660.7,233.9 L1663.8,233.4 L1667.0,233.0 L1670.1,232.5 L1673.2,232.0 L1676.4,231.6 L1679.5,231.1 L1682.6,230.7 L1685.8,230.2 L1688.9,229.8 L1692.0,229.3 L1695.2,228.9 L1698.3,228.4 L1701.5,228.0 L1704.6,227.6 L1707.7,227.1 L1710.9,226.7 L1714.0,226.2 L1717.1,225.8 L1720.3,225.4 L1723.4,225.0 L1726.5,224.5 L1729.7,224.1 L1732.8,223.7 L1735.9,223.3 L1739.1,222.8 L1742.2,222.4 L1745.3,222.0 L1748.5,221.6 L1751.6,221.2 L1754.8,220.8 L1757.9,220.4 L1761.0,220.0 L1764.2,219.6 L1767.3,219.2 L1770.4,218.8 L1773.6,218.4 L1776.7,218.0 L1779.8,217.6 L1783.0,217.2 L1786.1,216.8 L1789.2,216.4 L1792.4,216.0 L1795.5,215.7 L1798.6,215.3 L1801.8,214.9 L1804.9,214.5 L1808.0,214.1 L1811.2,213.8 L1814.3,213.4 L1817.5,213.0 L1820.6,212.7 L1823.7,212.3 L1826.9,211.9 L1830.0,211.6 L1833.1,211.2 L1836.3,210.9 L1839.4,210.5 L1842.5,210.2 L1845.7,209.8 L1848.8,209.4 L1851.9,209.1 L1855.1,208.7 L1858.2,208.4 L1861.3,208.1 L1864.5,207.7 L1867.6,207.4 L1870.7,207.0 L1873.9,206.7 L1877.0,206.4 L1880.1,206.0 L1883.3,205.7 L1886.4,205.4 L1889.6,205.0 L1892.7,204.7 L1895.8,204.4 L1899.0,204.0 L1902.1,203.7 L1905.2,203.4 L1908.4,203.1 L1911.5,202.8 L1914.6,202.4 L1917.8,202.1 L1920.9,201.8 L1924.0,201.5 L1927.2,201.2 L1930.3,200.9 L1933.4,200.5 L1936.6,200.2 L1939.7,199.9 L1942.8,199.6 L1946.0,199.3 L1949.1,199.0 L1952.3,198.7 L1955.4,198.4 L1958.5,198.1 L1961.7,197.8 L1964.8,197.5 L1967.9,197.2 L1971.1,196.9 L1974.2,196.6 L1977.3,196.3 L1980.5,196.0 L1983.6,195.7 L1986.7,195.4 L1989.9,195.1 L1993.0,194.8 L1996.1,194.6 L1999.3,194.3 L2002.4,194.0 L2005.5,193.7 L2008.7,193.4 L2011.8,193.1 L2015.0,192.8 L2018.1,192.6 L2021.2,192.3 L2024.4,192.0 L2027.5,191.7 L2030.6,191.4 L2033.8,191.1 L2036.9,190.9 L2040.0,190.6 L2043.2,190.3 L2046.3,190.0 L2049.4,189.8 L2052.6,189.5 L2055.7,189.2 L2058.8,188.9 L2062.0,188.7 L2065.1,188.4 L2068.2,188.1 L2071.4,187.9 L2074.5,187.6 L2077.7,187.3 L2080.8,187.0 L2083.9,186.8 L2087.1,186.5 L2090.2,186.2 L2093.3,186.0 L2096.5,185.7 L2099.6,185.4 L2101.3,185.3" stroke="#0000ff" stroke-width="9.9"/>
<path d="M216.6,947.7 L218.6,947.7 L221.7,947.7 L224.9,947.7 L228.0,947.7 L231.1,947.7 L234.3,947.7 L237.4,947.7 L240.5,947.7 L243.7,947.6 L246.8,947.5 L249.9,947.3 L253.1,947.1 L256.2,946.7 L259.4,946.1 L262.5,945.4 L265.6,944.6 L268.8,943.6 L271.9,942.4 L275.0,941.0 L278.2,939.5 L281.3,937.8 L284.4,935.9 L287.6,933.9 L290.7,931.7 L293.8,929.4 L297.0,926.9 L300.1,924.4 L303.2,921.7 L306.4,918.8 L309.5,915.9 L312.6,912.9 L315.8,909.7 L318.9,906.5 L322.1,903.2 L325.2,899.8 L328.3,896.4 L331.5,892.9 L334.6,889.3 L337.7,885.6 L340.9,882.0 L344.0,878.2 L347.1,874.5 L350.3,870.6 L353.4,866.8 L356.5,862.9 L359.7,859.0 L362.8,855.1 L365.9,851.1 L369.1,847.1 L372.2,843.1 L375.4,839.1 L378.5,835.1 L381.6,831.1 L384.8,827.1 L387.9,823.0 L391.0,819.0 L394.2,814.9 L397.3,810.9 L400.4,806.8 L403.6,802.8 L406.7,798.7 L409.8,794.7 L413.0,790.6 L416.1,786.6 L419.2,782.6 L422.4,778.5 L425.5,774.5 L428.6,770.5 L431.8,766.6 L434.9,762.6 L438.1,758.6 L441.2,754.7 L444.3,750.7 L447.5,746.8 L450.6,742.9 L453.7,739.0 L456.9,735.1 L460.0,731.2 L463.1,727.4 L466.3,723.6 L469.4,719.7 L472.5,715.9 L475.7,712.1 L478.8,708.4 L481.9,704.6 L485.1,700.9 L488.2,697.2 L491.3,693.5 L494.5,689.8 L497.6,686.1 L500.8,682.5 L503.9,678.8 L507.0,675.2 L510.2,671.6 L513.3,668.1 L516.4,664.5 L519.6,661.0 L522.7,657.5 L525.8,654.0 L529.0,650.5 L532.1,647.0 L535.2,643.6 L538.4,640.1 L541.5,636.7 L544.6,633.3 L547.8,630.0 L550.9,626.6 L554.0,623.3 L557.2,620.0 L560.3,616.7 L563.5,613.4 L566.6,610.1 L569.7,606.9 L572.9,603.7 L576.0,600.5 L579.1,597.3 L582.3,594.1 L585.4,590.9 L588.5,587.8 L591.7,584.7 L594.8,581.6 L597.9,578.5 L601.1,575.4 L604.2,572.4 L607.3,569.4 L610.5,566.3 L613.6,563.3 L616.7,560.4 L619.9,557.4 L623.0,554.5 L626.1,551.5 L629.3,548.6 L632.4,545.7 L635.6,542.9 L638.7,540.0 L641.8,537.1 L645.0,534.3 L648.1,531.5 L651.2,528.7 L654.4,525.9 L657.5,523.2 L660.6,520.4 L663.8,517.7 L666.9,515.0 L670.0,512.3 L673.2,509.6 L676.3,506.9 L679.4,504.3 L682.6,501.6 L685.7,499.0 L688.9,496.4 L692.0,493.8 L695.1,491.2 L698.3,488.7 L701.4,486.1 L704.5,483.6 L707.7,481.1 L710.8,478.6 L713.9,476.1 L717.1,473.6 L720.2,471.1 L723.3,468.7 L726.5,466.3 L729.6,463.9 L732.7,461.5 L735.9,459.1 L739.0,456.7 L742.1,454.3 L745.3,452.0 L748.4,449.6 L751.5,447.3 L754.7,445.0 L757.8,442.7 L761.0,440.4 L764.1,438.2 L767.2,435.9 L770.4,433.7 L773.5,431.5 L776.6,429.2 L779.8,427.0 L782.9,424.9 L786.0,422.7 L789.2,420.5 L792.3,418.4 L795.4,416.2 L798.6,414.1 L801.7,412.0 L804.8,409.9 L808.0,407.8 L811.1,405.7 L814.3,403.7 L817.4,401.6 L820.5,399.6 L823.7,397.5 L826.8,395.5 L829.9,393.5 L833.1,391.5 L836.2,389.6 L839.3,387.6 L842.5,385.6 L845.6,383.7 L848.7,381.7 L851.9,379.8 L855.0,377.9 L858.1,376.0 L861.3,374.1 L864.4,372.2 L867.5,370.4 L870.7,368.5 L873.8,366.7 L877.0,364.8 L880.1,363.0 L883.2,361.2 L886.4,359.4 L889.5,357.6 L892.6,355.8 L895.8,354.0 L898.9,352.3 L902.0,350.5 L905.2,348.8 L908.3,347.1 L911.4,345.3 L914.6,343.6 L917.7,341.9 L920.8,340.2 L924.0,338.6 L927.1,336.9 L930.2,335.2 L933.4,333.6 L936.5,331.9 L939.7,330.3 L942.8,328.7 L945.9,327.1 L949.1,325.5 L952.2,323.9 L955.3,322.3 L958.5,320.7 L961.6,319.1 L964.7,317.6 L967.9,316.0 L971.0,314.5 L974.1,313.0 L977.3,311.4 L980.4,309.9 L983.5,308.4 L986.7,306.9 L989.8,305.4 L992.9,304.0 L996.1,302.5 L999.2,301.0 L1002.4,299.6 L1005.5,298.1 L1008.6,296.7 L1011.8,295.3 L1014.9,293.8 L1018.0,292.4 L1021.2,291.0 L1024.3,289.6 L1027.4,288.3 L1030.6,286.9 L1033.7,285.5 L1036.8,284.1 L1040.0,282.8 L1043.1,281.4 L1046.2,280.1 L1049.4,278.8 L1052.5,277.5 L1055.6,276.1 L1058.8,274.8 L1061.9,273.5 L1065.0,272.2 L1068.2,271.0 L1071.3,269.7 L1074.5,268.4 L1077.6,267.2 L1080.7,265.9 L1083.9,264.7 L1087.0,263.4 L1090.1,262.2 L1093.3,261.0 L1096.4,259.7 L1099.5,258.5 L1102.7,257.3 L1105.8,256.1 L1108.9,254.9 L1112.1,253.8 L1115.2,252.6 L1118.3,251.4 L1121.5,250.3 L1124.6,249.1 L1127.8,247.9 L1130.9,246.8 L1134.0,245.7 L1137.2,244.5 L1140.3,243.4 L1143.4,242.3 L1146.6,241.2 L1149.7,240.1 L1152.8,239.0 L1156.0,237.9 L1159.1,236.8 L1162.2,235.7 L1165.4,234.7 L1168.5,233.6 L1171.6,232.6 L1174.8,231.5 L1177.9,230.5 L1181.0,229.4 L1184.2,228.4 L1187.3,227.4 L1190.5,226.3 L1193.6,225.3 L1196.7,224.3 L1199.9,223.3 L1203.0,222.3 L1206.1,221.3 L1209.3,220.3 L1212.4,219.3 L1215.5,218.4 L1218.7,217.4 L1221.8,216.4 L1224.9,215.5 L1228.1,214.5 L1231.2,213.6 L1234.3,212.6 L1237.5,211.7 L1240.6,210.8 L1243.7,209.9 L1246.9,208.9 L1250.0,208.0 L1253.2,207.1 L1256.3,206.2 L1259.4,205.3 L1262.6,204.4 L1265.7,203.5 L1268.8,202.6 L1272.0,201.8 L1275.1,200.9 L1278.2,200.0 L1281.4,199.2 L1284.5,198.3 L1287.6,197.5 L1290.8,196.6 L1293.9,195.8 L1297.0,194.9 L1300.2,194.1 L1303.3,193.3 L1306.4,192.4 L1309.6,191.6 L1312.7,190.8 L1315.8,190.0 L1319.0,189.2 L1322.1,188.4 L1325.3,187.6 L1328.4,186.8 L1331.5,186.0 L1334.7,185.3 L1337.8,184.5 L1340.9,183.7 L1344.1,182.9 L1347.2,182.2 L1350.3,181.4 L1353.5,180.7 L1356.6,179.9 L1359.7,179.2 L1362.9,178.4 L1366.0,177.7 L1369.1,177.0 L1372.3,176.2 L1375.4,175.5 L1378.5,174.8 L1381.7,174.1 L1384.8,173.4 L1388.0,172.7 L1391.1,172.0 L1394.2,171.3 L1397.4,170.6 L1400.5,169.9 L1403.6,169.2 L1406.8,168.5 L1409.9,167.8 L1413.0,167.2 L1416.2,166.5 L1419.3,165.8 L1422.4,165.2 L1425.6,164.5 L1428.7,163.9 L1431.8,163.2 L1435.0,162.6 L1438.1,161.9 L1441.2,161.3 L1444.4,160.6 L1447.5,160.0 L1450.7,159.4 L1453.8,158.8 L1456.9,158.1 L1460.1,157.5 L1463.2,156.9 L1466.3,156.3 L1469.5,155.7 L1472.6,155.1 L1475.7,154.5 L1478.9,153.9 L1482.0,153.3 L1485.1,152.7 L1488.3,152.1 L1491.4,151.5 L1494.5,151.0 L1497.7,150.4 L1500.8,149.8 L1503.9,149.2 L1507.1,148.7 L1510.2,148.1 L1513.4,147.6 L1516.5,147.0 L1519.6,146.5 L1522.8,145.9 L1525.9,145.4 L1529.0,144.8 L1532.2,144.3 L1535.3,143.7 L1538.4,143.2 L1541.6,142.7 L1544.7,142.2 L1547.8,141.6 L1551.0,141.1 L1554.1,140.6 L1557.2,140.1 L1560.4,139.6 L1563.5,139.1 L1566.6,138.5 L1569.8,138.0 L1572.9,137.5 L1576.1,137.0 L1579.2,136.6 L1582.3,136.1 L1585.5,135.6 L1588.6,135.1 L1591.7,134.6 L1594.9,134.1 L1598.0,133.7 L1601.1,133.2 L1604.3,132.7 L1607.4,132.2 L1610.5,131.8 L1613.7,131.3 L1616.8,130.8 L1619.9,130.4 L1623.1,129.9 L1626.2,129.5 L1629.3,129.0 L1632.5,128.6 L1635.6,128.1 L1638.8,127.7 L1641.9,127.3 L1645.0,126.8 L1648.2,126.4 L1651.3,126.0 L1654.4,125.5 L1657.6,125.1 L1660.7,124.7 L1663.8,124.3 L1667.0,123.8 L1670.1,123.4 L1673.2,123.0 L1676.4,122.6 L1679.5,122.2 L1682.6,121.8 L1685.8,121.4 L1688.9,121.0 L1692.0,120.6 L1695.2,120.2 L1698.3,119.8 L1701.5,119.4 L1704.6,119.0 L1707.7,118.6 L1710.9,118.2 L1714.0,117.8 L1717.1,117.5 L1720.3,117.1 L1723.4,116.7 L1726.5,116.3 L1729.7,115.9 L1732.8,115.6 L1735.9,115.2 L1739.1,114.8 L1742.2,114.5 L1745.3,114.1 L1748.5,113.8 L1751.6,113.4 L1754.8,113.0 L1757.9,112.7 L1761.0,112.3 L1764.2,112.0 L1767.3,111.6 L1770.4,111.3 L1773.6,110.9 L1776.7,110.6 L1779.8,110.3 L1783.0,109.9 L1786.1,109.6 L1789.2,109.3 L1792.4,108.9 L1795.5,108.6 L1798.6,108.3 L1801.8,107.9 L1804.9,107.6 L1808.0,107.3 L1811.2,107.0 L1814.3,106.7 L1817.5,106.3 L1820.6,106.0 L1823.7,105.7 L1826.9,105.4 L1830.0,105.1 L1833.1,104.8 L1836.3,104.5 L1839.4,104.2 L1842.5,103.9 L1845.7,103.6 L1848.8,103.3 L1851.9,103.0 L1855.1,102.7 L1858.2,102.4 L1861.3,102.1 L1864.5,101.8 L1867.6,101.5 L1870.7,101.2 L1873.9,101.0 L1877.0,100.7 L1880.1,100.4 L1883.3,100.1 L1886.4,99.8 L1889.6,99.6 L1892.7,99.3 L1895.8,99.0 L1899.0,98.7 L1902.1,98.5 L1905.2,98.2 L1908.4,97.9 L1911.5,97.7 L1914.6,97.4 L1917.8,97.1 L1920.9,96.9 L1924.0,96.6 L1927.2,96.4 L1930.3,96.1 L1933.4,95.9 L1936.6,95.6 L1939.7,95.3 L1942.8,95.1 L1946.0,94.8 L1949.1,94.6 L1952.3,94.4 L1955.4,94.1 L1958.5,93.9 L1961.7,93.6 L1964.8,93.4 L1967.9,93.1 L1971.1,92.9 L1974.2,92.7 L1977.3,92.4 L1980.5,92.2 L1983.6,92.0 L1986.7,91.7 L1989.9,91.5 L1993.0,91.3 L1996.1,91.1 L1999.3,90.8 L2002.4,90.6 L2005.5,90.4 L2008.7,90.2 L2011.8,89.9 L2015.0,89.7 L2018.1,89.5 L2021.2,89.3 L2024.4,89.1 L2027.5,88.9 L2030.6,88.6 L2033.8,88.4 L2036.9,88.2 L2040.0,88.0 L2043.2,87.8 L2046.3,87.6 L2049.4,87.4 L2052.6,87.2 L2055.7,87.0 L2058.8,86.8 L2062.0,86.6 L2065.1,86.4 L2068.2,86.2 L2071.4,86.0 L2074.5,85.8 L2077.7,85.6 L2080.8,85.4 L2083.9,85.2 L2087.1,85.0 L2090.2,84.8 L2093.3,84.7 L2096.5,84.5 L2099.6,84.3 L2101.3,84.2" stroke="#0000ff" stroke-width="9.9" stroke-dasharray="32.1 32.1" stroke-dashoffset="62.04"/>
<path d="M216.6,947.7 L218.6,947.7 L226.4,947.7 L229.6,947.7 L232.7,947.7 L235.8,947.7 L239.0,947.7 L242.1,947.7 L245.2,947.7 L248.4,947.7 L251.5,947.7 L254.7,947.7 L257.8,947.7 L260.9,947.7 L264.1,947.7 L267.2,947.7 L270.3,947.7 L273.5,947.7 L276.6,947.7 L279.7,947.7 L282.9,947.7 L286.0,947.7 L289.1,947.7 L292.3,947.7 L295.4,947.7 L298.5,947.7 L301.7,947.7 L304.8,947.7 L307.9,947.7 L311.1,947.7 L314.2,947.7 L317.4,947.7 L320.5,947.7 L323.6,947.7 L326.8,947.7 L329.9,947.7 L333.0,947.7 L336.2,947.7 L339.3,947.7 L342.4,947.7 L345.6,947.7 L348.7,947.7 L351.8,947.7 L355.0,947.7 L358.1,947.6 L361.2,947.6 L364.4,947.6 L367.5,947.6 L370.6,947.5 L373.8,947.5 L376.9,947.4 L380.1,947.4 L383.2,947.3 L386.3,947.2 L389.5,947.1 L392.6,947.0 L395.7,946.9 L398.9,946.7 L402.0,946.6 L405.1,946.4 L408.3,946.1 L411.4,945.9 L414.5,945.6 L417.7,945.3 L420.8,945.0 L423.9,944.6 L427.1,944.2 L430.2,943.8 L433.3,943.3 L436.5,942.8 L439.6,942.2 L442.8,941.6 L445.9,940.9 L449.0,940.2 L452.2,939.4 L455.3,938.6 L458.4,937.7 L461.6,936.8 L464.7,935.8 L467.8,934.8 L471.0,933.7 L474.1,932.5 L477.2,931.3 L480.4,930.0 L483.5,928.6 L486.6,927.3 L489.8,925.9 L492.9,924.5 L496.0,923.0 L499.2,921.4 L502.3,919.8 L505.5,918.2 L508.6,916.4 L511.7,914.7 L514.9,912.8 L518.0,910.9 L521.1,909.0 L524.3,906.9 L527.4,904.9 L530.5,902.7 L533.7,900.5 L536.8,898.3 L539.9,896.0 L543.1,893.6 L546.2,891.2 L549.3,888.7 L552.5,886.2 L555.6,883.6 L558.7,881.0 L561.9,878.3 L565.0,875.6 L568.2,872.8 L571.3,870.0 L574.4,867.1 L577.6,864.2 L580.7,861.2 L583.8,858.2 L587.0,855.1 L590.1,852.0 L593.2,848.9 L596.4,845.7 L599.5,842.5 L602.6,839.3 L605.8,836.0 L608.9,832.7 L612.0,829.3 L615.2,826.0 L618.3,822.5 L621.4,819.1 L624.6,815.6 L627.7,812.1 L630.9,808.6 L634.0,805.0 L637.1,801.5 L640.3,797.9 L643.4,794.2 L646.5,790.6 L649.7,786.9 L652.8,783.3 L655.9,779.6 L659.1,775.8 L662.2,772.1 L665.3,768.4 L668.5,764.6 L671.6,760.8 L674.7,757.1 L677.9,753.3 L681.0,749.5 L684.1,745.7 L687.3,741.8 L690.4,738.0 L693.6,734.2 L696.7,730.4 L699.8,726.5 L703.0,722.7 L706.1,718.9 L709.2,715.0 L712.4,711.2 L715.5,707.4 L718.6,703.5 L721.8,699.7 L724.9,695.9 L728.0,692.0 L731.2,688.2 L734.3,684.4 L737.4,680.6 L740.6,676.8 L743.7,673.0 L746.8,669.2 L750.0,665.4 L753.1,661.7 L756.3,657.9 L759.4,654.2 L762.5,650.4 L765.7,646.7 L768.8,643.0 L771.9,639.3 L775.1,635.6 L778.2,631.9 L781.3,628.2 L784.5,624.6 L787.6,621.0 L790.7,617.3 L793.9,613.7 L797.0,610.2 L800.1,606.6 L803.3,603.0 L806.4,599.5 L809.5,596.0 L812.7,592.5 L815.8,589.0 L819.0,585.6 L822.1,582.1 L825.2,578.7 L828.4,575.3 L831.5,571.9 L834.6,568.5 L837.8,565.2 L840.9,561.9 L844.0,558.6 L847.2,555.3 L850.3,552.0 L853.4,548.8 L856.6,545.5 L859.7,542.3 L862.8,539.1 L866.0,536.0 L869.1,532.8 L872.2,529.7 L875.4,526.6 L878.5,523.5 L881.7,520.5 L884.8,517.4 L887.9,514.4 L891.1,511.4 L894.2,508.4 L897.3,505.5 L900.5,502.5 L903.6,499.6 L906.7,496.7 L909.9,493.8 L913.0,491.0 L916.1,488.1 L919.3,485.3 L922.4,482.5 L925.5,479.8 L928.7,477.0 L931.8,474.3 L934.9,471.6 L938.1,468.9 L941.2,466.2 L944.4,463.5 L947.5,460.9 L950.6,458.3 L953.8,455.7 L956.9,453.1 L960.0,450.6 L963.2,448.1 L966.3,445.6 L969.4,443.1 L972.6,440.6 L975.7,438.1 L978.8,435.7 L982.0,433.3 L985.1,430.9 L988.2,428.6 L991.4,426.2 L994.5,423.9 L997.6,421.6 L1000.8,419.3 L1003.9,417.0 L1007.1,414.7 L1010.2,412.5 L1013.3,410.3 L1016.5,408.1 L1019.6,405.9 L1022.7,403.7 L1025.9,401.6 L1029.0,399.5 L1032.1,397.4 L1035.3,395.3 L1038.4,393.2 L1041.5,391.2 L1044.7,389.1 L1047.8,387.1 L1050.9,385.1 L1054.1,383.1 L1057.2,381.2 L1060.3,379.2 L1063.5,377.3 L1066.6,375.4 L1069.8,373.5 L1072.9,371.6 L1076.0,369.7 L1079.2,367.9 L1082.3,366.0 L1085.4,364.2 L1088.6,362.4 L1091.7,360.6 L1094.8,358.9 L1098.0,357.1 L1101.1,355.4 L1104.2,353.6 L1107.4,351.9 L1110.5,350.2 L1113.6,348.6 L1116.8,346.9 L1119.9,345.2 L1123.0,343.6 L1126.2,342.0 L1129.3,340.4 L1132.5,338.8 L1135.6,337.2 L1138.7,335.7 L1141.9,334.1 L1145.0,332.6 L1148.1,331.1 L1151.3,329.6 L1154.4,328.1 L1157.5,326.6 L1160.7,325.1 L1163.8,323.7 L1166.9,322.2 L1170.1,320.8 L1173.2,319.4 L1176.3,318.0 L1179.5,316.6 L1182.6,315.2 L1185.7,313.9 L1188.9,312.5 L1192.0,311.2 L1195.2,309.8 L1198.3,308.5 L1201.4,307.2 L1204.6,305.9 L1207.7,304.7 L1210.8,303.4 L1214.0,302.1 L1217.1,300.9 L1220.2,299.7 L1223.4,298.5 L1226.5,297.2 L1229.6,296.0 L1232.8,294.9 L1235.9,293.7 L1239.0,292.5 L1242.2,291.4 L1245.3,290.2 L1248.4,289.1 L1251.6,288.0 L1254.7,286.8 L1257.9,285.7 L1261.0,284.6 L1264.1,283.6 L1267.3,282.5 L1270.4,281.4 L1273.5,280.4 L1276.7,279.3 L1279.8,278.3 L1282.9,277.2 L1286.1,276.2 L1289.2,275.2 L1292.3,274.2 L1295.5,273.2 L1298.6,272.2 L1301.7,271.3 L1304.9,270.3 L1308.0,269.3 L1311.1,268.4 L1314.3,267.4 L1317.4,266.5 L1320.6,265.6 L1323.7,264.6 L1326.8,263.7 L1330.0,262.8 L1333.1,261.9 L1336.2,261.0 L1339.4,260.2 L1342.5,259.3 L1345.6,258.4 L1348.8,257.6 L1351.9,256.7 L1355.0,255.9 L1358.2,255.0 L1361.3,254.2 L1364.4,253.4 L1367.6,252.5 L1370.7,251.7 L1373.8,250.9 L1377.0,250.1 L1380.1,249.3 L1383.3,248.6 L1386.4,247.8 L1389.5,247.0 L1392.7,246.2 L1395.8,245.5 L1398.9,244.7 L1402.1,244.0 L1405.2,243.2 L1408.3,242.5 L1411.5,241.7 L1414.6,241.0 L1417.7,240.3 L1420.9,239.6 L1424.0,238.9 L1427.1,238.2 L1430.3,237.5 L1433.4,236.8 L1436.5,236.1 L1439.7,235.4 L1442.8,234.7 L1446.0,234.0 L1449.1,233.4 L1452.2,232.7 L1455.4,232.0 L1458.5,231.4 L1461.6,230.7 L1464.8,230.1 L1467.9,229.4 L1471.0,228.8 L1474.2,228.1 L1477.3,227.5 L1480.4,226.9 L1483.6,226.3 L1486.7,225.7 L1489.8,225.0 L1493.0,224.4 L1496.1,223.8 L1499.2,223.2 L1502.4,222.6 L1505.5,222.0 L1508.7,221.5 L1511.8,220.9 L1514.9,220.3 L1518.1,219.7 L1521.2,219.2 L1524.3,218.6 L1527.5,218.0 L1530.6,217.5 L1533.7,216.9 L1536.9,216.4 L1540.0,215.8 L1543.1,215.3 L1546.3,214.7 L1549.4,214.2 L1552.5,213.7 L1555.7,213.2 L1558.8,212.6 L1561.9,212.1 L1565.1,211.6 L1568.2,211.1 L1571.4,210.6 L1574.5,210.1 L1577.6,209.6 L1580.8,209.1 L1583.9,208.6 L1587.0,208.1 L1590.2,207.6 L1593.3,207.1 L1596.4,206.6 L1599.6,206.2 L1602.7,205.7 L1605.8,205.2 L1609.0,204.7 L1612.1,204.3 L1615.2,203.8 L1618.4,203.4 L1621.5,202.9 L1624.6,202.4 L1627.8,202.0 L1630.9,201.6 L1634.1,201.1 L1637.2,200.7 L1640.3,200.2 L1643.5,199.8 L1646.6,199.4 L1649.7,198.9 L1652.9,198.5 L1656.0,198.1 L1659.1,197.7 L1662.3,197.2 L1665.4,196.8 L1668.5,196.4 L1671.7,196.0 L1674.8,195.6 L1677.9,195.2 L1681.1,194.8 L1684.2,194.4 L1687.3,194.0 L1690.5,193.6 L1693.6,193.2 L1696.8,192.8 L1699.9,192.4 L1703.0,192.0 L1706.2,191.7 L1709.3,191.3 L1712.4,190.9 L1715.6,190.5 L1718.7,190.1 L1721.8,189.8 L1725.0,189.4 L1728.1,189.0 L1731.2,188.7 L1734.4,188.3 L1737.5,188.0 L1740.6,187.6 L1743.8,187.2 L1746.9,186.9 L1750.0,186.5 L1753.2,186.2 L1756.3,185.8 L1759.5,185.5 L1762.6,185.2 L1765.7,184.8 L1768.9,184.5 L1772.0,184.2 L1775.1,183.8 L1778.3,183.5 L1781.4,183.2 L1784.5,182.8 L1787.7,182.5 L1790.8,182.2 L1793.9,181.9 L1797.1,181.5 L1800.2,181.2 L1803.3,180.9 L1806.5,180.6 L1809.6,180.3 L1812.7,180.0 L1815.9,179.7 L1819.0,179.4 L1822.2,179.1 L1825.3,178.8 L1828.4,178.5 L1831.6,178.2 L1834.7,177.9 L1837.8,177.6 L1841.0,177.3 L1844.1,177.0 L1847.2,176.7 L1850.4,176.4 L1853.5,176.2 L1856.6,175.9 L1859.8,175.6 L1862.9,175.3 L1866.0,175.0 L1869.2,174.8 L1872.3,174.5 L1875.4,174.2 L1878.6,174.0 L1881.7,173.7 L1884.9,173.4 L1888.0,173.2 L1891.1,172.9 L1894.3,172.6 L1897.4,172.4 L1900.5,172.1 L1903.7,171.9 L1906.8,171.6 L1909.9,171.4 L1913.1,171.1 L1916.2,170.8 L1919.3,170.6 L1922.5,170.3 L1925.6,170.1 L1928.7,169.9 L1931.9,169.6 L1935.0,169.4 L1938.1,169.1 L1941.3,168.9 L1944.4,168.6 L1947.6,168.4 L1950.7,168.2 L1953.8,167.9 L1957.0,167.7 L1960.1,167.5 L1963.2,167.2 L1966.4,167.0 L1969.5,166.8 L1972.6,166.5 L1975.8,166.3 L1978.9,166.1 L1982.0,165.9 L1985.2,165.6 L1988.3,165.4 L1991.4,165.2 L1994.6,165.0 L1997.7,164.8 L2000.8,164.5 L2004.0,164.3 L2007.1,164.1 L2010.3,163.9 L2013.4,163.7 L2016.5,163.4 L2019.7,163.2 L2022.8,163.0 L2025.9,162.8 L2029.1,162.6 L2032.2,162.4 L2035.3,162.2 L2038.5,162.0 L2041.6,161.8 L2044.7,161.5 L2047.9,161.3 L2051.0,161.1 L2054.1,160.9 L2057.3,160.7 L2060.4,160.5 L2063.5,160.3 L2066.7,160.1 L2069.8,159.9 L2073.0,159.7 L2076.1,159.5 L2079.2,159.3 L2082.4,159.1 L2085.5,158.9 L2088.6,158.7 L2091.8,158.5 L2094.9,158.3 L2098.0,158.1 L2101.2,157.9 L2101.3,157.9" stroke="#ff0000" stroke-width="9.9"/>
<path d="M216.6,947.7 L218.6,947.7 L226.4,947.7 L229.6,947.7 L232.7,947.7 L235.8,947.7 L239.0,947.7 L242.1,947.7 L245.2,947.7 L248.4,947.7 L251.5,947.7 L254.7,947.7 L257.8,947.7 L260.9,947.7 L264.1,947.7 L267.2,947.7 L270.3,947.7 L273.5,947.7 L276.6,947.7 L279.7,947.7 L282.9,947.7 L286.0,947.7 L289.1,947.7 L292.3,947.7 L295.4,947.7 L298.5,947.7 L301.7,947.7 L304.8,947.7 L307.9,947.7 L311.1,947.7 L314.2,947.7 L317.4,947.7 L320.5,947.7 L323.6,947.7 L326.8,947.7 L329.9,947.7 L333.0,947.7 L336.2,947.7 L339.3,947.7 L342.4,947.7 L345.6,947.7 L348.7,947.7 L351.8,947.7 L355.0,947.7 L358.1,947.6 L361.2,947.6 L364.4,947.6 L367.5,947.6 L370.6,947.5 L373.8,947.5 L376.9,947.4 L380.1,947.3 L383.2,947.3 L386.3,947.2 L389.5,947.1 L392.6,946.9 L395.7,946.8 L398.9,946.6 L402.0,946.4 L405.1,946.2 L408.3,945.9 L411.4,945.7 L414.5,945.3 L417.7,945.0 L420.8,944.6 L423.9,944.2 L427.1,943.7 L430.2,943.2 L433.3,942.6 L436.5,942.0 L439.6,941.4 L442.8,940.7 L445.9,939.9 L449.0,939.1 L452.2,938.2 L455.3,937.2 L458.4,936.2 L461.6,935.2 L464.7,934.0 L467.8,932.8 L471.0,931.5 L474.1,930.2 L477.2,928.7 L480.4,927.2 L483.5,925.6 L486.6,924.0 L489.8,922.3 L492.9,920.5 L496.0,918.6 L499.2,916.6 L502.3,914.5 L505.5,912.4 L508.6,910.2 L511.7,907.9 L514.9,905.5 L518.0,903.1 L521.1,900.6 L524.3,898.0 L527.4,895.3 L530.5,892.5 L533.7,889.6 L536.8,886.7 L539.9,883.7 L543.1,880.6 L546.2,877.5 L549.3,874.2 L552.5,870.9 L555.6,867.5 L558.7,864.1 L561.9,860.6 L565.0,857.0 L568.2,853.3 L571.3,849.6 L574.4,845.8 L577.6,841.9 L580.7,838.0 L583.8,834.0 L587.0,830.0 L590.1,825.9 L593.2,821.7 L596.4,817.5 L599.5,813.2 L602.6,808.9 L605.8,804.6 L608.9,800.1 L612.0,795.7 L615.2,791.2 L618.3,786.6 L621.4,782.0 L624.6,777.4 L627.7,772.7 L630.9,768.0 L634.0,763.3 L637.1,758.5 L640.3,753.7 L643.4,748.8 L646.5,744.0 L649.7,739.1 L652.8,734.1 L655.9,729.2 L659.1,724.2 L662.2,719.2 L665.3,714.2 L668.5,709.2 L671.6,704.2 L674.7,699.1 L677.9,694.0 L681.0,689.0 L684.1,683.9 L687.3,678.8 L690.4,673.7 L693.6,668.6 L696.7,663.4 L699.8,658.3 L703.0,653.2 L706.1,648.1 L709.2,643.0 L712.4,637.8 L715.5,632.7 L718.6,627.6 L721.8,622.5 L724.9,617.4 L728.0,612.3 L731.2,607.2 L734.3,602.2 L737.4,597.1 L740.6,592.0 L743.7,587.0 L746.8,582.0 L750.0,577.0 L753.1,572.0 L756.3,567.0 L759.4,562.0 L762.5,557.1 L765.7,552.1 L768.8,547.2 L771.9,542.3 L775.1,537.5 L778.2,532.6 L781.3,527.8 L784.5,523.0 L787.6,518.2 L790.7,513.5 L793.9,508.7 L797.0,504.0 L800.1,499.3 L803.3,494.7 L806.4,490.0 L809.5,485.4 L812.7,480.9 L815.8,476.3 L819.0,471.8 L822.1,467.3 L825.2,462.8 L828.4,458.4 L831.5,454.0 L834.6,449.6 L837.8,445.3 L840.9,441.0 L844.0,436.7 L847.2,432.4 L850.3,428.2 L853.4,424.0 L856.6,419.8 L859.7,415.7 L862.8,411.6 L866.0,407.5 L869.1,403.5 L872.2,399.5 L875.4,395.5 L878.5,391.6 L881.7,387.7 L884.8,383.8 L887.9,380.0 L891.1,376.2 L894.2,372.4 L897.3,368.7 L900.5,364.9 L903.6,361.3 L906.7,357.6 L909.9,354.0 L913.0,350.4 L916.1,346.9 L919.3,343.4 L922.4,339.9 L925.5,336.4 L928.7,333.0 L931.8,329.6 L934.9,326.3 L938.1,323.0 L941.2,319.7 L944.4,316.4 L947.5,313.2 L950.6,310.0 L953.8,306.9 L956.9,303.7 L960.0,300.6 L963.2,297.6 L966.3,294.5 L969.4,291.5 L972.6,288.6 L975.7,285.6 L978.8,282.7 L982.0,279.8 L985.1,277.0 L988.2,274.1 L991.4,271.4 L994.5,268.6 L997.6,265.9 L1000.8,263.2 L1003.9,260.5 L1007.1,257.8 L1010.2,255.2 L1013.3,252.6 L1016.5,250.1 L1019.6,247.6 L1022.7,245.0 L1025.9,242.6 L1029.0,240.1 L1032.1,237.7 L1035.3,235.3 L1038.4,233.0 L1041.5,230.6 L1044.7,228.3 L1047.8,226.0 L1050.9,223.8 L1054.1,221.5 L1057.2,219.3 L1060.3,217.1 L1063.5,215.0 L1066.6,212.8 L1069.8,210.7 L1072.9,208.7 L1076.0,206.6 L1079.2,204.6 L1082.3,202.6 L1085.4,200.6 L1088.6,198.6 L1091.7,196.7 L1094.8,194.8 L1098.0,192.9 L1101.1,191.0 L1104.2,189.2 L1107.4,187.3 L1110.5,185.5 L1113.6,183.8 L1116.8,182.0 L1119.9,180.3 L1123.0,178.5 L1126.2,176.8 L1129.3,175.2 L1132.5,173.5 L1135.6,171.9 L1138.7,170.3 L1141.9,168.7 L1145.0,167.1 L1148.1,165.6 L1151.3,164.0 L1154.4,162.5 L1157.5,161.0 L1160.7,159.5 L1163.8,158.1 L1166.9,156.6 L1170.1,155.2 L1173.2,153.8 L1176.3,152.4 L1179.5,151.1 L1182.6,149.7 L1185.7,148.4 L1188.9,147.1 L1192.0,145.8 L1195.2,144.5 L1198.3,143.2 L1201.4,142.0 L1204.6,140.7 L1207.7,139.5 L1210.8,138.3 L1214.0,137.1 L1217.1,136.0 L1220.2,134.8 L1223.4,133.7 L1226.5,132.6 L1229.6,131.4 L1232.8,130.3 L1235.9,129.3 L1239.0,128.2 L1242.2,127.1 L1245.3,126.1 L1248.4,125.1 L1251.6,124.1 L1254.7,123.1 L1257.9,122.1 L1261.0,121.1 L1264.1,120.2 L1267.3,119.2 L1270.4,118.3 L1273.5,117.3 L1276.7,116.4 L1279.8,115.5 L1282.9,114.7 L1286.1,113.8 L1289.2,112.9 L1292.3,112.1 L1295.5,111.2 L1298.6,110.4 L1301.7,109.6 L1304.9,108.8 L1308.0,108.0 L1311.1,107.2 L1314.3,106.4 L1317.4,105.7 L1320.6,104.9 L1323.7,104.2 L1326.8,103.4 L1330.0,102.7 L1333.1,102.0 L1336.2,101.3 L1339.4,100.6 L1342.5,99.9 L1345.6,99.3 L1348.8,98.6 L1351.9,97.9 L1355.0,97.3 L1358.2,96.7 L1361.3,96.0 L1364.4,95.4 L1367.6,94.8 L1370.7,94.2 L1373.8,93.6 L1377.0,93.0 L1380.1,92.4 L1383.3,91.9 L1386.4,91.3 L1389.5,90.7 L1392.7,90.2 L1395.8,89.7 L1398.9,89.1 L1402.1,88.6 L1405.2,88.1 L1408.3,87.6 L1411.5,87.1 L1414.6,86.6 L1417.7,86.1 L1420.9,85.6 L1424.0,85.1 L1427.1,84.7 L1430.3,84.2 L1433.4,83.7 L1436.5,83.3 L1439.7,82.8 L1442.8,82.4 L1446.0,82.0 L1449.1,81.6 L1452.2,81.1 L1455.4,80.7 L1458.5,80.3 L1461.6,79.9 L1464.8,79.5 L1467.9,79.1 L1471.0,78.7 L1474.2,78.4 L1477.3,78.0 L1480.4,77.6 L1483.6,77.3 L1486.7,76.9 L1489.8,76.5 L1493.0,76.2 L1496.1,75.9 L1499.2,75.5 L1502.4,75.2 L1505.5,74.9 L1508.7,74.5 L1511.8,74.2 L1514.9,73.9 L1518.1,73.6 L1521.2,73.3 L1524.3,73.0 L1527.5,72.7 L1530.6,72.4 L1533.7,72.1 L1536.9,71.8 L1540.0,71.5 L1543.1,71.3 L1546.3,71.0 L1549.4,70.7 L1552.5,70.4 L1555.7,70.2 L1558.8,69.9 L1561.9,69.7 L1565.1,69.4 L1568.2,69.2 L1571.4,68.9 L1574.5,68.7 L1577.6,68.5 L1580.8,68.2 L1583.9,68.0 L1587.0,67.8 L1590.2,67.5 L1593.3,67.3 L1596.4,67.1 L1599.6,66.9 L1602.7,66.7 L1605.8,66.5 L1609.0,66.3 L1612.1,66.1 L1615.2,65.9 L1618.4,65.7 L1621.5,65.5 L1624.6,65.3 L1627.8,65.1 L1630.9,64.9 L1634.1,64.7 L1637.2,64.6 L1640.3,64.4 L1643.5,64.2 L1646.6,64.0 L1649.7,63.9 L1652.9,63.7 L1656.0,63.5 L1659.1,63.4 L1662.3,63.2 L1665.4,63.1 L1668.5,62.9 L1671.7,62.7 L1674.8,62.6 L1677.9,62.4 L1681.1,62.3 L1684.2,62.2 L1687.3,62.0 L1690.5,61.9 L1693.6,61.7 L1696.8,61.6 L1699.9,61.5 L1703.0,61.3 L1706.2,61.2 L1709.3,61.1 L1712.4,61.0 L1715.6,60.8 L1718.7,60.7 L1721.8,60.6 L1725.0,60.5 L1728.1,60.3 L1731.2,60.2 L1734.4,60.1 L1737.5,60.0 L1740.6,59.9 L1743.8,59.8 L1746.9,59.7 L1750.0,59.6 L1753.2,59.5 L1756.3,59.4 L1759.5,59.3 L1762.6,59.2 L1765.7,59.1 L1768.9,59.0 L1772.0,58.9 L1775.1,58.8 L1778.3,58.7 L1781.4,58.6 L1784.5,58.5 L1787.7,58.4 L1790.8,58.3 L1793.9,58.2 L1797.1,58.2 L1800.2,58.1 L1803.3,58.0 L1806.5,57.9 L1809.6,57.8 L1812.7,57.8 L1815.9,57.7 L1819.0,57.6 L1822.2,57.5 L1825.3,57.4 L1828.4,57.4 L1831.6,57.3 L1834.7,57.2 L1837.8,57.2 L1841.0,57.1 L1844.1,57.0 L1847.2,57.0 L1850.4,56.9 L1853.5,56.8 L1856.6,56.8 L1859.8,56.7 L1862.9,56.6 L1866.0,56.6 L1869.2,56.5 L1872.3,56.5 L1875.4,56.4 L1878.6,56.3 L1881.7,56.3 L1884.9,56.2 L1888.0,56.2 L1891.1,56.1 L1894.3,56.1 L1897.4,56.0 L1900.5,56.0 L1903.7,55.9 L1906.8,55.9 L1909.9,55.8 L1913.1,55.8 L1916.2,55.7 L1919.3,55.7 L1922.5,55.6 L1925.6,55.6 L1928.7,55.5 L1931.9,55.5 L1935.0,55.4 L1938.1,55.4 L1941.3,55.3 L1944.4,55.3 L1947.6,55.3 L1950.7,55.2 L1953.8,55.2 L1957.0,55.1 L1960.1,55.1 L1963.2,55.1 L1966.4,55.0 L1969.5,55.0 L1972.6,55.0 L1975.8,54.9 L1978.9,54.9 L1982.0,54.8 L1985.2,54.8 L1988.3,54.8 L1991.4,54.7 L1994.6,54.7 L1997.7,54.7 L2000.8,54.6 L2004.0,54.6 L2007.1,54.6 L2010.3,54.5 L2013.4,54.5 L2016.5,54.5 L2019.7,54.5 L2022.8,54.4 L2025.9,54.4 L2029.1,54.4 L2032.2,54.3 L2035.3,54.3 L2038.5,54.3 L2041.6,54.3 L2044.7,54.2 L2047.9,54.2 L2051.0,54.2 L2054.1,54.2 L2057.3,54.1 L2060.4,54.1 L2063.5,54.1 L2066.7,54.1 L2069.8,54.0 L2073.0,54.0 L2076.1,54.0 L2079.2,54.0 L2082.4,53.9 L2085.5,53.9 L2088.6,53.9 L2091.8,53.9 L2094.9,53.9 L2098.0,53.8 L2101.2,53.8 L2101.3,53.8" stroke="#ff0000" stroke-width="9.9" stroke-dasharray="32.1 32.1" stroke-dashoffset="58.75"/>
<path d="M216.6,947.7 L218.6,947.7 L232.1,947.7 L235.2,947.7 L238.4,947.7 L241.5,947.7 L244.6,947.7 L247.8,947.7 L250.9,947.7 L254.0,947.7 L257.2,947.7 L260.3,947.7 L263.4,947.7 L266.6,947.7 L269.7,947.7 L272.8,947.7 L276.0,947.7 L279.1,947.7 L282.2,947.7 L285.4,947.7 L288.5,947.7 L291.6,947.7 L294.8,947.7 L297.9,947.7 L301.1,947.7 L304.2,947.7 L307.3,947.7 L310.5,947.7 L313.6,947.7 L316.7,947.7 L319.9,947.7 L323.0,947.7 L326.1,947.7 L329.3,947.7 L332.4,947.7 L335.5,947.7 L338.7,947.7 L341.8,947.7 L344.9,947.7 L348.1,947.7 L351.2,947.7 L354.3,947.7 L357.5,947.7 L360.6,947.7 L363.8,947.7 L366.9,947.7 L370.0,947.7 L373.2,947.7 L376.3,947.7 L379.4,947.7 L382.6,947.7 L385.7,947.7 L388.8,947.7 L392.0,947.7 L395.1,947.7 L398.2,947.7 L401.4,947.7 L404.5,947.7 L407.6,947.7 L410.8,947.7 L413.9,947.7 L417.0,947.7 L420.2,947.7 L423.3,947.7 L426.5,947.7 L429.6,947.7 L432.7,947.7 L435.9,947.7 L439.0,947.7 L442.1,947.7 L445.3,947.7 L448.4,947.7 L451.5,947.7 L454.7,947.7 L457.8,947.7 L460.9,947.7 L464.1,947.7 L467.2,947.7 L470.3,947.7 L473.5,947.7 L476.6,947.7 L479.7,947.7 L482.9,947.7 L486.0,947.7 L489.2,947.7 L492.3,947.7 L495.4,947.7 L498.6,947.7 L501.7,947.7 L504.8,947.7 L508.0,947.7 L511.1,947.7 L514.2,947.7 L517.4,947.7 L520.5,947.7 L523.6,947.7 L526.8,947.7 L529.9,947.7 L533.0,947.7 L536.2,947.7 L539.3,947.7 L542.4,947.7 L545.6,947.7 L548.7,947.7 L551.9,947.7 L555.0,947.7 L558.1,947.7 L561.3,947.7 L564.4,947.7 L567.5,947.7 L570.7,947.7 L573.8,947.7 L576.9,947.7 L580.1,947.7 L583.2,947.7 L586.3,947.7 L589.5,947.7 L592.6,947.7 L595.7,947.7 L598.9,947.6 L602.0,947.6 L605.1,947.6 L608.3,947.6 L611.4,947.6 L614.6,947.5 L617.7,947.5 L620.8,947.4 L624.0,947.4 L627.1,947.3 L630.2,947.2 L633.4,947.1 L636.5,947.0 L639.6,946.8 L642.8,946.7 L645.9,946.5 L649.0,946.2 L652.2,946.0 L655.3,945.7 L658.5,945.3 L661.6,944.9 L664.7,944.5 L667.9,944.0 L671.0,943.4 L674.2,942.8 L677.3,942.1 L680.4,941.2 L683.6,940.4 L686.7,939.4 L689.9,938.3 L693.0,937.0 L696.2,935.7 L699.3,934.2 L702.5,932.6 L705.6,930.9 L708.8,929.0 L711.9,927.0 L715.1,924.9 L718.2,922.6 L721.4,920.2 L724.5,917.5 L727.7,914.7 L730.9,911.7 L734.0,908.5 L737.2,905.2 L740.4,901.6 L743.5,897.8 L746.7,893.9 L749.9,889.7 L753.1,885.3 L756.2,880.7 L759.4,876.0 L762.6,871.0 L765.8,865.8 L769.0,860.4 L772.2,854.8 L775.3,848.9 L778.5,843.0 L781.7,836.8 L784.9,830.4 L788.1,823.8 L791.3,817.1 L794.5,810.2 L797.7,803.2 L800.9,795.9 L804.1,788.6 L807.3,781.1 L810.5,773.5 L813.7,765.7 L816.9,757.9 L820.2,749.9 L823.4,741.8 L826.6,733.7 L829.8,725.5 L833.0,717.2 L836.2,708.9 L839.4,700.5 L842.6,692.1 L845.9,683.7 L849.0,675.3 L852.2,666.8 L855.3,658.4 L858.5,649.9 L861.6,641.5 L864.7,633.2 L867.9,624.8 L871.0,616.6 L874.1,608.3 L877.3,600.2 L880.4,592.1 L883.5,584.0 L886.7,576.1 L889.8,568.2 L892.9,560.5 L896.1,552.8 L899.2,545.2 L902.3,537.8 L905.5,530.5 L908.6,523.2 L911.7,516.1 L914.9,509.1 L918.0,502.3 L921.2,495.5 L924.3,488.9 L927.4,482.4 L930.6,476.1 L933.7,469.9 L936.8,463.8 L940.0,457.8 L943.1,452.0 L946.2,446.3 L949.4,440.7 L952.5,435.3 L955.6,430.0 L958.8,424.8 L961.9,419.7 L965.0,414.8 L968.2,410.0 L971.3,405.3 L974.4,400.7 L977.6,396.3 L980.7,391.9 L983.9,387.7 L987.0,383.6 L990.1,379.6 L993.3,375.7 L996.4,371.9 L999.5,368.2 L1002.7,364.6 L1005.8,361.1 L1008.9,357.7 L1012.1,354.4 L1015.2,351.2 L1018.3,348.1 L1021.5,345.0 L1024.6,342.1 L1027.7,339.2 L1030.9,336.4 L1034.0,333.6 L1037.1,331.0 L1040.3,328.4 L1043.4,325.9 L1046.6,323.4 L1049.7,321.0 L1052.8,318.7 L1056.0,316.4 L1059.1,314.2 L1062.2,312.0 L1065.4,309.9 L1068.5,307.9 L1071.6,305.9 L1074.8,303.9 L1077.9,302.0 L1081.0,300.1 L1084.2,298.3 L1087.3,296.5 L1090.4,294.8 L1093.6,293.1 L1096.7,291.5 L1099.8,289.8 L1103.0,288.3 L1106.1,286.7 L1109.3,285.2 L1112.4,283.7 L1115.5,282.3 L1118.7,280.8 L1121.8,279.4 L1124.9,278.1 L1128.1,276.7 L1131.2,275.4 L1134.3,274.1 L1137.5,272.9 L1140.6,271.6 L1143.7,270.4 L1146.9,269.2 L1150.0,268.0 L1153.1,266.9 L1156.3,265.7 L1159.4,264.6 L1162.5,263.5 L1165.7,262.5 L1168.8,261.4 L1172.0,260.4 L1175.1,259.3 L1178.2,258.3 L1181.4,257.3 L1184.5,256.4 L1187.6,255.4 L1190.8,254.4 L1193.9,253.5 L1197.0,252.6 L1200.2,251.7 L1203.3,250.8 L1206.4,249.9 L1209.6,249.0 L1212.7,248.2 L1215.8,247.3 L1219.0,246.5 L1222.1,245.7 L1225.2,244.9 L1228.4,244.1 L1231.5,243.3 L1234.7,242.5 L1237.8,241.7 L1240.9,241.0 L1244.1,240.2 L1247.2,239.5 L1250.3,238.7 L1253.5,238.0 L1256.6,237.3 L1259.7,236.6 L1262.9,235.9 L1266.0,235.2 L1269.1,234.5 L1272.3,233.8 L1275.4,233.2 L1278.5,232.5 L1281.7,231.8 L1284.8,231.2 L1287.9,230.6 L1291.1,229.9 L1294.2,229.3 L1297.4,228.7 L1300.5,228.0 L1303.6,227.4 L1306.8,226.8 L1309.9,226.2 L1313.0,225.6 L1316.2,225.1 L1319.3,224.5 L1322.4,223.9 L1325.6,223.3 L1328.7,222.8 L1331.8,222.2 L1335.0,221.6 L1338.1,221.1 L1341.2,220.5 L1344.4,220.0 L1347.5,219.5 L1350.6,218.9 L1353.8,218.4 L1356.9,217.9 L1360.1,217.4 L1363.2,216.8 L1366.3,216.3 L1369.5,215.8 L1372.6,215.3 L1375.7,214.8 L1378.9,214.3 L1382.0,213.8 L1385.1,213.3 L1388.3,212.8 L1391.4,212.4 L1394.5,211.9 L1397.7,211.4 L1400.8,210.9 L1403.9,210.5 L1407.1,210.0 L1410.2,209.5 L1413.3,209.1 L1416.5,208.6 L1419.6,208.2 L1422.8,207.7 L1425.9,207.3 L1429.0,206.8 L1432.2,206.4 L1435.3,205.9 L1438.4,205.5 L1441.6,205.0 L1444.7,204.6 L1447.8,204.2 L1451.0,203.7 L1454.1,203.3 L1457.2,202.9 L1460.4,202.5 L1463.5,202.1 L1466.6,201.6 L1469.8,201.2 L1472.9,200.8 L1476.0,200.4 L1479.2,200.0 L1482.3,199.6 L1485.5,199.2 L1488.6,198.8 L1491.7,198.4 L1494.9,198.0 L1498.0,197.6 L1501.1,197.2 L1504.3,196.8 L1507.4,196.4 L1510.5,196.0 L1513.7,195.6 L1516.8,195.3 L1519.9,194.9 L1523.1,194.5 L1526.2,194.1 L1529.3,193.8 L1532.5,193.4 L1535.6,193.0 L1538.7,192.7 L1541.9,192.3 L1545.0,191.9 L1548.2,191.6 L1551.3,191.2 L1554.4,190.9 L1557.6,190.5 L1560.7,190.2 L1563.8,189.8 L1567.0,189.5 L1570.1,189.2 L1573.2,188.8 L1576.4,188.5 L1579.5,188.1 L1582.6,187.8 L1585.8,187.5 L1588.9,187.1 L1592.0,186.8 L1595.2,186.5 L1598.3,186.2 L1601.4,185.8 L1604.6,185.5 L1607.7,185.2 L1610.9,184.9 L1614.0,184.6 L1617.1,184.2 L1620.3,183.9 L1623.4,183.6 L1626.5,183.3 L1629.7,183.0 L1632.8,182.7 L1635.9,182.4 L1639.1,182.1 L1642.2,181.8 L1645.3,181.5 L1648.5,181.2 L1651.6,180.9 L1654.7,180.6 L1657.9,180.3 L1661.0,180.0 L1664.1,179.7 L1667.3,179.4 L1670.4,179.1 L1673.6,178.9 L1676.7,178.6 L1679.8,178.3 L1683.0,178.0 L1686.1,177.7 L1689.2,177.4 L1692.4,177.2 L1695.5,176.9 L1698.6,176.6 L1701.8,176.3 L1704.9,176.1 L1708.0,175.8 L1711.2,175.5 L1714.3,175.3 L1717.4,175.0 L1720.6,174.7 L1723.7,174.5 L1726.8,174.2 L1730.0,173.9 L1733.1,173.7 L1736.3,173.4 L1739.4,173.2 L1742.5,172.9 L1745.7,172.7 L1748.8,172.4 L1751.9,172.1 L1755.1,171.9 L1758.2,171.6 L1761.3,171.4 L1764.5,171.1 L1767.6,170.9 L1770.7,170.7 L1773.9,170.4 L1777.0,170.2 L1780.1,169.9 L1783.3,169.7 L1786.4,169.4 L1789.5,169.2 L1792.7,169.0 L1795.8,168.7 L1799.0,168.5 L1802.1,168.3 L1805.2,168.0 L1808.4,167.8 L1811.5,167.6 L1814.6,167.3 L1817.8,167.1 L1820.9,166.9 L1824.0,166.6 L1827.2,166.4 L1830.3,166.2 L1833.4,166.0 L1836.6,165.7 L1839.7,165.5 L1842.8,165.3 L1846.0,165.1 L1849.1,164.9 L1852.2,164.6 L1855.4,164.4 L1858.5,164.2 L1861.7,164.0 L1864.8,163.8 L1867.9,163.6 L1871.1,163.3 L1874.2,163.1 L1877.3,162.9 L1880.5,162.7 L1883.6,162.5 L1886.7,162.3 L1889.9,162.1 L1893.0,161.9 L1896.1,161.7 L1899.3,161.5 L1902.4,161.3 L1905.5,161.1 L1908.7,160.9 L1911.8,160.7 L1914.9,160.5 L1918.1,160.3 L1921.2,160.1 L1924.4,159.9 L1927.5,159.7 L1930.6,159.5 L1933.8,159.3 L1936.9,159.1 L1940.0,158.9 L1943.2,158.7 L1946.3,158.5 L1949.4,158.3 L1952.6,158.1 L1955.7,157.9 L1958.8,157.7 L1962.0,157.5 L1965.1,157.4 L1968.2,157.2 L1971.4,157.0 L1974.5,156.8 L1977.6,156.6 L1980.8,156.4 L1983.9,156.2 L1987.1,156.1 L1990.2,155.9 L1993.3,155.7 L1996.5,155.5 L1999.6,155.3 L2002.7,155.2 L2005.9,155.0 L2009.0,154.8 L2012.1,154.6 L2015.3,154.4 L2018.4,154.3 L2021.5,154.1 L2024.7,153.9 L2027.8,153.7 L2030.9,153.6 L2034.1,153.4 L2037.2,153.2 L2040.3,153.0 L2043.5,152.9 L2046.6,152.7 L2049.8,152.5 L2052.9,152.4 L2056.0,152.2 L2059.2,152.0 L2062.3,151.9 L2065.4,151.7 L2068.6,151.5 L2071.7,151.4 L2074.8,151.2 L2078.0,151.0 L2081.1,150.9 L2084.2,150.7 L2087.4,150.5 L2090.5,150.4 L2093.6,150.2 L2096.8,150.0 L2099.9,149.9 L2101.3,149.8" stroke="#00ff00" stroke-width="9.9"/>
<path d="M216.6,947.7 L218.6,947.7 L232.1,947.7 L235.2,947.7 L238.4,947.7 L241.5,947.7 L244.6,947.7 L247.8,947.7 L250.9,947.7 L254.0,947.7 L257.2,947.7 L260.3,947.7 L263.4,947.7 L266.6,947.7 L269.7,947.7 L272.8,947.7 L276.0,947.7 L279.1,947.7 L282.2,947.7 L285.4,947.7 L288.5,947.7 L291.6,947.7 L294.8,947.7 L297.9,947.7 L301.1,947.7 L304.2,947.7 L307.3,947.7 L310.5,947.7 L313.6,947.7 L316.7,947.7 L319.9,947.7 L323.0,947.7 L326.1,947.7 L329.3,947.7 L332.4,947.7 L335.5,947.7 L338.7,947.7 L341.8,947.7 L344.9,947.7 L348.1,947.7 L351.2,947.7 L354.3,947.7 L357.5,947.7 L360.6,947.7 L363.8,947.7 L366.9,947.7 L370.0,947.7 L373.2,947.7 L376.3,947.7 L379.4,947.7 L382.6,947.7 L385.7,947.7 L388.8,947.7 L392.0,947.7 L395.1,947.7 L398.2,947.7 L401.4,947.7 L404.5,947.7 L407.6,947.7 L410.8,947.7 L413.9,947.7 L417.0,947.7 L420.2,947.7 L423.3,947.7 L426.5,947.7 L429.6,947.7 L432.7,947.7 L435.9,947.7 L439.0,947.7 L442.1,947.7 L445.3,947.7 L448.4,947.7 L451.5,947.7 L454.7,947.7 L457.8,947.7 L460.9,947.7 L464.1,947.7 L467.2,947.7 L470.3,947.7 L473.5,947.7 L476.6,947.7 L479.7,947.7 L482.9,947.7 L486.0,947.7 L489.2,947.7 L492.3,947.7 L495.4,947.7 L498.6,947.7 L501.7,947.7 L504.8,947.7 L508.0,947.7 L511.1,947.7 L514.2,947.7 L517.4,947.7 L520.5,947.7 L523.6,947.7 L526.8,947.7 L529.9,947.7 L533.0,947.7 L536.2,947.7 L539.3,947.7 L542.4,947.7 L545.6,947.7 L548.7,947.7 L551.9,947.7 L555.0,947.7 L558.1,947.7 L561.3,947.7 L564.4,947.7 L567.5,947.7 L570.7,947.7 L573.8,947.7 L576.9,947.7 L580.1,947.7 L583.2,947.7 L586.3,947.7 L589.5,947.7 L592.6,947.7 L595.7,947.7 L598.9,947.6 L602.0,947.6 L605.1,947.6 L608.3,947.6 L611.4,947.6 L614.6,947.5 L617.7,947.5 L620.8,947.4 L624.0,947.4 L627.1,947.3 L630.2,947.2 L633.4,947.1 L636.5,947.0 L639.6,946.8 L642.8,946.7 L645.9,946.5 L649.0,946.2 L652.2,946.0 L655.3,945.7 L657.5,945.4" stroke="#00ff00" stroke-width="11.1"/>
<path d="M216.6,947.7 L218.6,947.7 L225.8,947.7 L228.9,947.7 L232.1,947.7 L235.2,947.7 L238.4,947.7 L241.5,947.7 L244.6,947.7 L247.8,947.7 L250.9,947.7 L254.0,947.7 L257.2,947.7 L260.3,947.7 L263.4,947.7 L266.6,947.7 L269.7,947.7 L272.8,947.7 L276.0,947.7 L279.1,947.7 L282.2,947.7 L285.4,947.7 L288.5,947.7 L291.6,947.7 L294.8,947.7 L297.9,947.7 L301.1,947.7 L304.2,947.7 L307.3,947.7 L310.5,947.7 L313.6,947.7 L316.7,947.7 L319.9,947.7 L323.0,947.7 L326.1,947.7 L329.3,947.7 L332.4,947.7 L335.5,947.7 L338.7,947.7 L341.8,947.7 L344.9,947.7 L348.1,947.7 L351.2,947.7 L354.3,947.7 L357.5,947.7 L360.6,947.7 L363.8,947.7 L366.9,947.7 L370.0,947.7 L373.2,947.7 L376.3,947.7 L379.4,947.7 L382.6,947.7 L385.7,947.7 L388.8,947.7 L392.0,947.7 L395.1,947.7 L398.2,947.7 L401.4,947.7 L404.5,947.7 L407.6,947.7 L410.8,947.7 L413.9,947.7 L417.0,947.7 L420.2,947.7 L423.3,947.7 L426.5,947.7 L429.6,947.7 L432.7,947.7 L435.9,947.7 L439.0,947.7 L442.1,947.7 L445.3,947.7 L448.4,947.7 L451.5,947.7 L454.7,947.7 L457.8,947.7 L460.9,947.7 L464.1,947.7 L467.2,947.7 L470.3,947.7 L473.5,947.7 L476.6,947.7 L479.7,947.7 L482.9,947.7 L486.0,947.7 L489.2,947.7 L492.3,947.7 L495.4,947.7 L498.6,947.7 L501.7,947.7 L504.8,947.7 L508.0,947.7 L511.1,947.7 L514.2,947.7 L517.4,947.7 L520.5,947.7 L523.6,947.7 L526.8,947.7 L529.9,947.7 L533.0,947.7 L536.2,947.7 L539.3,947.7 L542.4,947.7 L545.6,947.7 L548.7,947.7 L551.9,947.7 L555.0,947.7 L558.1,947.7 L561.3,947.7 L564.4,947.7 L567.5,947.7 L570.7,947.7 L573.8,947.7 L576.9,947.7 L580.1,947.7 L583.2,947.7 L586.3,947.6 L589.5,947.6 L592.6,947.6 L595.7,947.6 L598.9,947.6 L602.0,947.5 L605.2,947.5 L608.3,947.4 L611.4,947.4 L614.6,947.3 L617.7,947.2 L620.8,947.1 L624.0,946.9 L627.1,946.8 L630.3,946.6 L633.4,946.3 L636.5,946.1 L639.7,945.8 L642.8,945.4 L646.0,945.0 L649.1,944.5 L652.3,944.0 L655.4,943.4 L658.6,942.7 L661.7,941.9 L664.9,941.0 L668.1,940.0 L671.2,938.8 L674.4,937.6 L677.6,936.2 L680.8,934.6 L683.9,932.9 L687.1,931.0 L690.3,928.9 L693.5,926.6 L696.7,924.1 L699.9,921.4 L703.1,918.5 L706.4,915.3 L709.6,911.9 L712.8,908.2 L716.1,904.2 L719.3,899.9 L722.6,895.3 L725.9,890.5 L729.2,885.3 L732.4,879.8 L735.7,874.0 L739.1,867.9 L742.4,861.4 L745.7,854.6 L749.0,847.5 L752.4,840.0 L755.7,832.2 L759.1,824.1 L762.5,815.6 L765.8,806.8 L769.2,797.7 L772.6,788.3 L776.0,778.6 L779.5,768.6 L782.9,758.3 L786.3,747.7 L789.7,736.8 L793.2,725.7 L796.6,714.4 L800.1,702.8 L803.6,691.1 L807.0,679.1 L810.5,666.9 L814.0,654.6 L817.5,642.2 L820.8,629.6 L824.0,616.9 L827.1,604.1 L830.2,591.3 L833.4,578.4 L836.5,565.4 L839.6,552.5 L842.8,539.5 L845.9,526.5 L849.0,513.6 L852.2,500.7 L855.3,487.9 L858.5,475.2 L861.6,462.5 L864.7,450.0 L867.9,437.6 L871.0,425.3 L874.1,413.2 L877.3,401.2 L880.4,389.4 L883.5,377.8 L886.7,366.4 L889.8,355.2 L892.9,344.2 L896.1,333.4 L899.2,322.9 L902.3,312.5 L905.5,302.4 L908.6,292.6 L911.7,283.0 L914.9,273.6 L918.0,264.5 L921.2,255.6 L924.3,247.0 L927.4,238.6 L930.6,230.5 L933.7,222.6 L936.8,215.0 L940.0,207.6 L943.1,200.5 L946.2,193.6 L949.4,187.0 L952.5,180.6 L955.6,174.4 L958.8,168.5 L961.9,162.8 L965.0,157.3 L968.2,152.0 L971.3,147.0 L974.4,142.1 L977.5,137.5 L980.5,133.1 L983.5,128.8 L986.5,124.7 L989.5,120.8 L992.6,117.1 L995.6,113.6 L998.6,110.2 L1001.7,107.0 L1004.7,103.9 L1007.8,101.0 L1010.8,98.2 L1013.9,95.6 L1017.0,93.1 L1020.0,90.7 L1023.1,88.5 L1026.2,86.3 L1029.3,84.3 L1032.3,82.4 L1035.4,80.6 L1038.5,78.9 L1041.6,77.2 L1044.7,75.7 L1047.8,74.2 L1050.9,72.9 L1054.0,71.6 L1057.1,70.4 L1060.2,69.2 L1063.3,68.2 L1066.4,67.1 L1069.5,66.2 L1072.6,65.3 L1075.7,64.4 L1078.8,63.6 L1082.0,62.9 L1085.1,62.2 L1088.2,61.6 L1091.3,60.9 L1094.4,60.4 L1097.5,59.8 L1100.7,59.3 L1103.8,58.8 L1106.9,58.4 L1110.0,58.0 L1113.2,57.6 L1116.3,57.2 L1119.4,56.9 L1122.5,56.6 L1125.7,56.3 L1128.8,56.0 L1131.9,55.8 L1135.0,55.5 L1138.2,55.3 L1141.3,55.1 L1144.4,54.9 L1147.6,54.7 L1150.7,54.6 L1153.8,54.4 L1157.0,54.3 L1160.1,54.1 L1163.2,54.0 L1166.3,53.9 L1169.5,53.8 L1172.6,53.7 L1175.7,53.6 L1178.9,53.5 L1182.0,53.4 L1185.1,53.4 L1188.3,53.3 L1191.4,53.2 L1194.5,53.2 L1197.7,53.1 L1200.8,53.1 L1203.9,53.0 L1207.1,53.0 L1210.2,53.0 L1213.3,52.9 L1216.5,52.9 L1219.6,52.9 L1222.7,52.8 L1225.9,52.8 L1229.0,52.8 L1232.2,52.8 L1235.3,52.7 L1238.4,52.7 L1241.6,52.7 L1244.7,52.7 L1247.8,52.7 L1251.0,52.7 L1254.1,52.6 L1257.2,52.6 L1260.4,52.6 L1263.5,52.6 L1266.6,52.6 L1269.8,52.6 L1272.9,52.6 L1276.0,52.6 L1279.2,52.6 L1282.3,52.6 L1285.4,52.6 L1288.6,52.6 L1291.7,52.5 L1294.8,52.5 L1298.0,52.5 L1301.1,52.5 L1304.3,52.5 L1307.4,52.5 L1310.5,52.5 L1313.7,52.5 L1316.8,52.5 L1319.9,52.5 L1323.1,52.5 L1326.2,52.5 L1329.3,52.5 L1332.5,52.5 L1335.6,52.5 L1338.7,52.5 L1341.9,52.5 L1345.0,52.5 L1348.1,52.5 L1351.3,52.5 L1354.4,52.5 L1357.5,52.5 L1360.7,52.5 L1363.8,52.5 L1367.0,52.5 L1370.1,52.5 L1373.2,52.5 L1376.4,52.5 L1379.5,52.5 L1382.6,52.5 L1385.8,52.5 L1388.9,52.5 L1392.0,52.5 L1395.2,52.5 L1398.3,52.5 L1401.4,52.5 L1404.6,52.5 L1407.7,52.5 L1410.8,52.5 L1414.0,52.5 L1417.1,52.5 L1420.2,52.5 L1423.4,52.5 L1426.5,52.5 L1429.7,52.5 L1432.8,52.5 L1435.9,52.5 L1439.1,52.5 L1442.2,52.5 L1445.3,52.5 L1448.5,52.5 L1451.6,52.5 L1454.7,52.5 L1457.9,52.5 L1461.0,52.5 L1464.1,52.5 L1467.3,52.5 L1470.4,52.5 L1473.5,52.5 L1476.7,52.5 L1479.8,52.5 L1482.9,52.5 L1486.1,52.5 L1489.2,52.5 L1492.4,52.5 L1495.5,52.5 L1498.6,52.5 L1501.8,52.5 L1504.9,52.5 L1508.0,52.5 L1511.2,52.5 L1514.3,52.5 L1517.4,52.5 L1520.6,52.5 L1523.7,52.5 L1526.8,52.5 L1530.0,52.5 L1533.1,52.5 L1536.2,52.5 L1539.4,52.5 L1542.5,52.5 L1545.6,52.5 L1548.8,52.5 L1551.9,52.5 L1555.1,52.5 L1558.2,52.5 L1561.3,52.5 L1564.5,52.5 L1567.6,52.5 L1570.7,52.5 L1573.9,52.5 L1577.0,52.5 L1580.1,52.5 L1583.3,52.5 L1586.4,52.5 L1589.5,52.5 L1592.7,52.5 L1595.8,52.5 L1598.9,52.5 L1602.1,52.5 L1605.2,52.5 L1608.3,52.5 L1611.5,52.5 L1614.6,52.5 L1617.8,52.5 L1620.9,52.5 L1624.0,52.5 L1627.2,52.5 L1630.3,52.5 L1633.4,52.5 L1636.6,52.5 L1639.7,52.5 L1642.8,52.5 L1646.0,52.5 L1649.1,52.5 L1652.2,52.5 L1655.4,52.5 L1658.5,52.5 L1661.6,52.5 L1664.8,52.5 L1667.9,52.5 L1671.0,52.5 L1674.2,52.5 L1677.3,52.5 L1680.5,52.5 L1683.6,52.5 L1686.7,52.5 L1689.9,52.5 L1693.0,52.5 L1696.1,52.5 L1699.3,52.5 L1702.4,52.5 L1705.5,52.5 L1708.7,52.5 L1711.8,52.5 L1714.9,52.5 L1718.1,52.5 L1721.2,52.5 L1724.3,52.5 L1727.5,52.5 L1730.6,52.5 L1733.7,52.5 L1736.9,52.5 L1740.0,52.5 L1743.2,52.5 L1746.3,52.5 L1749.4,52.5 L1752.6,52.5 L1755.7,52.5 L1758.8,52.5 L1762.0,52.5 L1765.1,52.5 L1768.2,52.5 L1771.4,52.5 L1774.5,52.5 L1777.6,52.5 L1780.8,52.5 L1783.9,52.5 L1787.0,52.5 L1790.2,52.5 L1793.3,52.5 L1796.4,52.5 L1799.6,52.5 L1802.7,52.5 L1805.9,52.5 L1809.0,52.5 L1812.1,52.5 L1815.3,52.5 L1818.4,52.5 L1821.5,52.5 L1824.7,52.5 L1827.8,52.5 L1830.9,52.5 L1834.1,52.5 L1837.2,52.5 L1840.3,52.5 L1843.5,52.5 L1846.6,52.5 L1849.7,52.5 L1852.9,52.5 L1856.0,52.5 L1859.1,52.5 L1862.3,52.5 L1865.4,52.5 L1868.6,52.5 L1871.7,52.5 L1874.8,52.5 L1878.0,52.5 L1881.1,52.5 L1884.2,52.5 L1887.4,52.5 L1890.5,52.5 L1893.6,52.5 L1896.8,52.5 L1899.9,52.5 L1903.0,52.5 L1906.2,52.5 L1909.3,52.5 L1912.4,52.5 L1915.6,52.5 L1918.7,52.5 L1921.8,52.5 L1925.0,52.5 L1928.1,52.5 L1931.3,52.5 L1934.4,52.5 L1937.5,52.5 L1940.7,52.5 L1943.8,52.5 L1946.9,52.5 L1950.1,52.5 L1953.2,52.5 L1956.3,52.5 L1959.5,52.5 L1962.6,52.5 L1965.7,52.5 L1968.9,52.5 L1972.0,52.5 L1975.1,52.5 L1978.3,52.5 L1981.4,52.5 L1984.5,52.5 L1987.7,52.5 L1990.8,52.5 L1994.0,52.5 L1997.1,52.5 L2000.2,52.5 L2003.4,52.5 L2006.5,52.5 L2009.6,52.5 L2012.8,52.5 L2015.9,52.5 L2019.0,52.5 L2022.2,52.5 L2025.3,52.5 L2028.4,52.5 L2031.6,52.5 L2034.7,52.5 L2037.8,52.5 L2041.0,52.5 L2044.1,52.5 L2047.2,52.5 L2050.4,52.5 L2053.5,52.5 L2056.7,52.5 L2059.8,52.5 L2062.9,52.5 L2066.1,52.5 L2069.2,52.5 L2072.3,52.5 L2075.5,52.5 L2078.6,52.5 L2081.7,52.5 L2084.9,52.5 L2088.0,52.5 L2091.1,52.5 L2094.3,52.5 L2097.4,52.5 L2100.5,52.5 L2101.3,52.5" stroke="#00ff00" stroke-width="9.9" stroke-dasharray="32.1 32.1" stroke-dashoffset="60.52"/>
<path d="M1108.9,58.1 L1110.0,58.0 L1113.2,57.6 L1116.3,57.2 L1119.4,56.9 L1122.5,56.6 L1125.7,56.3 L1128.8,56.0 L1131.9,55.8 L1135.0,55.5 L1138.2,55.3 L1141.3,55.1 L1144.4,54.9 L1147.6,54.7 L1150.7,54.6 L1153.8,54.4 L1157.0,54.3 L1160.1,54.1 L1163.2,54.0 L1166.3,53.9 L1169.5,53.8 L1172.6,53.7 L1175.7,53.6 L1178.9,53.5 L1182.0,53.4 L1185.1,53.4 L1188.3,53.3 L1191.4,53.2 L1194.5,53.2 L1197.7,53.1 L1200.8,53.1 L1203.9,53.0 L1207.1,53.0 L1210.2,53.0 L1213.3,52.9 L1216.5,52.9 L1219.6,52.9 L1222.7,52.8 L1225.9,52.8 L1229.0,52.8 L1232.2,52.8 L1235.3,52.7 L1238.4,52.7 L1241.6,52.7 L1244.7,52.7 L1247.8,52.7 L1251.0,52.7 L1254.1,52.6 L1257.2,52.6 L1260.4,52.6 L1263.5,52.6 L1266.6,52.6 L1269.8,52.6 L1272.9,52.6 L1276.0,52.6 L1279.2,52.6 L1282.3,52.6 L1285.4,52.6 L1288.6,52.6 L1291.7,52.5 L1294.8,52.5 L1298.0,52.5 L1301.1,52.5 L1304.3,52.5 L1307.4,52.5 L1310.5,52.5 L1313.7,52.5 L1316.8,52.5 L1319.9,52.5 L1323.1,52.5 L1326.2,52.5 L1329.3,52.5 L1332.5,52.5 L1335.6,52.5 L1338.7,52.5 L1341.9,52.5 L1345.0,52.5 L1348.1,52.5 L1351.3,52.5 L1354.4,52.5 L1357.5,52.5 L1360.7,52.5 L1363.8,52.5 L1367.0,52.5 L1370.1,52.5 L1373.2,52.5 L1376.4,52.5 L1379.5,52.5 L1382.6,52.5 L1385.8,52.5 L1388.9,52.5 L1392.0,52.5 L1395.2,52.5 L1398.3,52.5 L1401.4,52.5 L1404.6,52.5 L1407.7,52.5 L1410.8,52.5 L1414.0,52.5 L1417.1,52.5 L1420.2,52.5 L1423.4,52.5 L1426.5,52.5 L1429.7,52.5 L1432.8,52.5 L1435.9,52.5 L1439.1,52.5 L1442.2,52.5 L1445.3,52.5 L1448.5,52.5 L1451.6,52.5 L1454.7,52.5 L1457.9,52.5 L1461.0,52.5 L1464.1,52.5 L1467.3,52.5 L1470.4,52.5 L1473.5,52.5 L1476.7,52.5 L1479.8,52.5 L1482.9,52.5 L1486.1,52.5 L1489.2,52.5 L1492.4,52.5 L1495.5,52.5 L1498.6,52.5 L1501.8,52.5 L1504.9,52.5 L1508.0,52.5 L1511.2,52.5 L1514.3,52.5 L1517.4,52.5 L1520.6,52.5 L1523.7,52.5 L1526.8,52.5 L1530.0,52.5 L1533.1,52.5 L1536.2,52.5 L1539.4,52.5 L1542.5,52.5 L1545.6,52.5 L1548.8,52.5 L1551.9,52.5 L1555.1,52.5 L1558.2,52.5 L1561.3,52.5 L1564.5,52.5 L1567.6,52.5 L1570.7,52.5 L1573.9,52.5 L1577.0,52.5 L1580.1,52.5 L1583.3,52.5 L1586.4,52.5 L1589.5,52.5 L1592.7,52.5 L1595.8,52.5 L1598.9,52.5 L1602.1,52.5 L1605.2,52.5 L1608.3,52.5 L1611.5,52.5 L1614.6,52.5 L1617.8,52.5 L1620.9,52.5 L1624.0,52.5 L1627.2,52.5 L1630.3,52.5 L1633.4,52.5 L1636.6,52.5 L1639.7,52.5 L1642.8,52.5 L1646.0,52.5 L1649.1,52.5 L1652.2,52.5 L1655.4,52.5 L1658.5,52.5 L1661.6,52.5 L1664.8,52.5 L1667.9,52.5 L1671.0,52.5 L1674.2,52.5 L1677.3,52.5 L1680.5,52.5 L1683.6,52.5 L1686.7,52.5 L1689.9,52.5 L1693.0,52.5 L1696.1,52.5 L1699.3,52.5 L1702.4,52.5 L1705.5,52.5 L1708.7,52.5 L1711.8,52.5 L1714.9,52.5 L1718.1,52.5 L1721.2,52.5 L1724.3,52.5 L1727.5,52.5 L1730.6,52.5 L1733.7,52.5 L1736.9,52.5 L1740.0,52.5 L1743.2,52.5 L1746.3,52.5 L1749.4,52.5 L1752.6,52.5 L1755.7,52.5 L1758.8,52.5 L1762.0,52.5 L1765.1,52.5 L1768.2,52.5 L1771.4,52.5 L1774.5,52.5 L1777.6,52.5 L1780.8,52.5 L1783.9,52.5 L1787.0,52.5 L1790.2,52.5 L1793.3,52.5 L1796.4,52.5 L1799.6,52.5 L1802.7,52.5 L1805.9,52.5 L1809.0,52.5 L1812.1,52.5 L1815.3,52.5 L1818.4,52.5 L1821.5,52.5 L1824.7,52.5 L1827.8,52.5 L1830.9,52.5 L1834.1,52.5 L1837.2,52.5 L1840.3,52.5 L1843.5,52.5 L1846.6,52.5 L1849.7,52.5 L1852.9,52.5 L1856.0,52.5 L1859.1,52.5 L1862.3,52.5 L1865.4,52.5 L1868.6,52.5 L1871.7,52.5 L1874.8,52.5 L1878.0,52.5 L1881.1,52.5 L1884.2,52.5 L1887.4,52.5 L1890.5,52.5 L1893.6,52.5 L1896.8,52.5 L1899.9,52.5 L1903.0,52.5 L1906.2,52.5 L1909.3,52.5 L1912.4,52.5 L1915.6,52.5 L1918.7,52.5 L1921.8,52.5 L1925.0,52.5 L1928.1,52.5 L1931.3,52.5 L1934.4,52.5 L1937.5,52.5 L1940.7,52.5 L1943.8,52.5 L1946.9,52.5 L1950.1,52.5 L1953.2,52.5 L1956.3,52.5 L1959.5,52.5 L1962.6,52.5 L1965.7,52.5 L1968.9,52.5 L1972.0,52.5 L1975.1,52.5 L1978.3,52.5 L1981.4,52.5 L1984.5,52.5 L1987.7,52.5 L1990.8,52.5 L1994.0,52.5 L1997.1,52.5 L2000.2,52.5 L2003.4,52.5 L2006.5,52.5 L2009.6,52.5 L2012.8,52.5 L2015.9,52.5 L2019.0,52.5 L2022.2,52.5 L2025.3,52.5 L2028.4,52.5 L2031.6,52.5 L2034.7,52.5 L2037.8,52.5 L2041.0,52.5 L2044.1,52.5 L2047.2,52.5 L2050.4,52.5 L2053.5,52.5 L2056.7,52.5 L2059.8,52.5 L2062.9,52.5 L2066.1,52.5 L2069.2,52.5 L2072.3,52.5 L2075.5,52.5 L2078.6,52.5 L2081.7,52.5 L2084.9,52.5 L2088.0,52.5 L2091.1,52.5 L2094.3,52.5 L2097.4,52.5 L2100.5,52.5 L2101.3,52.5" stroke="#00ff00" stroke-width="11.1" stroke-dasharray="32.1 32.1" stroke-dashoffset="5.95"/>
</g>
<rect x="1477.3" y="364.2" width="577.5" height="536.1" fill="#ffffff" stroke="#3a3a3a" stroke-width="4.2" stroke-linejoin="round"/>
<g font-family="'Liberation Sans', Arial, Helvetica, sans-serif" font-size="50.5" fill="#101010" stroke="#101010" stroke-width="0.5" stroke-linejoin="round">
<text><tspan x="1662.29" y="421.40" textLength="166.50" lengthAdjust="spacingAndGlyphs">Porous,</tspan> <tspan x="1844.48" y="421.40" textLength="57.77" lengthAdjust="spacingAndGlyphs">Pe</tspan> <tspan x="1917.23" y="421.40" textLength="25.36" lengthAdjust="spacingAndGlyphs">=</tspan> <tspan x="1957.60" y="421.40" textLength="69.34" lengthAdjust="spacingAndGlyphs">0.1</tspan></text>
<text><tspan x="1662.29" y="485.50" textLength="166.50" lengthAdjust="spacingAndGlyphs">Porous,</tspan> <tspan x="1844.48" y="485.50" textLength="57.77" lengthAdjust="spacingAndGlyphs">Pe</tspan> <tspan x="1917.23" y="485.50" textLength="25.36" lengthAdjust="spacingAndGlyphs">=</tspan> <tspan x="1958.65" y="485.50" textLength="26.68" lengthAdjust="spacingAndGlyphs">1</tspan></text>
<text><tspan x="1662.29" y="553.50" textLength="166.50" lengthAdjust="spacingAndGlyphs">Porous,</tspan> <tspan x="1844.48" y="553.50" textLength="57.77" lengthAdjust="spacingAndGlyphs">Pe</tspan> <tspan x="1917.23" y="553.50" textLength="25.36" lengthAdjust="spacingAndGlyphs">=</tspan> <tspan x="1956.72" y="553.50" textLength="54.65" lengthAdjust="spacingAndGlyphs">10</tspan></text>
<text><tspan x="1662.29" y="617.30" textLength="166.50" lengthAdjust="spacingAndGlyphs">Porous,</tspan> <tspan x="1844.48" y="617.30" textLength="57.77" lengthAdjust="spacingAndGlyphs">Pe</tspan> <tspan x="1917.23" y="617.30" textLength="25.36" lengthAdjust="spacingAndGlyphs">=</tspan> <tspan x="1956.94" y="617.30" textLength="78.24" lengthAdjust="spacingAndGlyphs">100</tspan></text>
<text><tspan x="1664.04" y="685.60" textLength="121.68" lengthAdjust="spacingAndGlyphs">Solid,</tspan> <tspan x="1795.62" y="685.60" textLength="58.55" lengthAdjust="spacingAndGlyphs">Pe</tspan> <tspan x="1868.24" y="685.60" textLength="26.44" lengthAdjust="spacingAndGlyphs">=</tspan> <tspan x="1911.54" y="685.60" textLength="71.67" lengthAdjust="spacingAndGlyphs">0.1</tspan></text>
<text><tspan x="1664.04" y="749.90" textLength="121.68" lengthAdjust="spacingAndGlyphs">Solid,</tspan> <tspan x="1795.62" y="749.90" textLength="58.55" lengthAdjust="spacingAndGlyphs">Pe</tspan> <tspan x="1868.24" y="749.90" textLength="26.44" lengthAdjust="spacingAndGlyphs">=</tspan> <tspan x="1914.55" y="749.90" textLength="26.68" lengthAdjust="spacingAndGlyphs">1</tspan></text>
<text><tspan x="1664.04" y="817.80" textLength="121.68" lengthAdjust="spacingAndGlyphs">Solid,</tspan> <tspan x="1795.62" y="817.80" textLength="58.55" lengthAdjust="spacingAndGlyphs">Pe</tspan> <tspan x="1868.24" y="817.80" textLength="26.44" lengthAdjust="spacingAndGlyphs">=</tspan> <tspan x="1913.10" y="817.80" textLength="49.18" lengthAdjust="spacingAndGlyphs">10</tspan></text>
<text><tspan x="1664.04" y="882.00" textLength="121.68" lengthAdjust="spacingAndGlyphs">Solid,</tspan> <tspan x="1795.62" y="882.00" textLength="58.55" lengthAdjust="spacingAndGlyphs">Pe</tspan> <tspan x="1868.24" y="882.00" textLength="26.44" lengthAdjust="spacingAndGlyphs">=</tspan> <tspan x="1912.90" y="882.00" textLength="77.26" lengthAdjust="spacingAndGlyphs">100</tspan></text>
</g>
<path d="M832.27,1019.93H843.90V1027.70H832.27Z M848.75,1019.93H859.95V1027.70H848.75Z M1121.52,1019.93H1133.15V1027.70H1121.52Z M1138.00,1019.93H1149.20V1027.70H1138.00Z M169.07,70.73H180.70V78.50H169.07Z M185.55,70.73H196.75V78.50H185.55Z M2001.00,416.78H2011.50V423.90H2001.00Z M2016.40,416.78H2026.50V423.90H2016.40Z M1960.30,480.88H1970.46V488.00H1960.30Z M1975.20,480.88H1984.99V488.00H1975.20Z M1958.47,548.88H1968.83V556.00H1958.47Z M1973.67,548.88H1983.65V556.00H1973.67Z M1958.51,612.68H1968.48V619.80H1958.51Z M1973.12,612.68H1982.73V619.80H1973.12Z M1956.46,680.98H1967.25V688.10H1956.46Z M1972.30,680.98H1982.69V688.10H1972.30Z M1916.20,745.28H1926.36V752.40H1916.20Z M1931.10,745.28H1940.89V752.40H1931.10Z M1914.47,813.18H1923.97V820.30H1914.47Z M1928.37,813.18H1937.53V820.30H1928.37Z M1914.42,877.38H1924.29V884.50H1914.42Z M1928.88,877.38H1938.39V884.50H1928.88Z" fill="#ffffff"/>
<g fill="none" stroke-width="10.9">
<path d="M1487.6,399.4 H1653" stroke="#000000"/>
<path d="M1487.6,467.4 H1653" stroke="#0000ff"/>
<path d="M1487.6,531.9 H1653" stroke="#ff0000"/>
<path d="M1487.6,599.8 H1653" stroke="#00ff00"/>
<path d="M1487.6,664.1 H1653" stroke="#000000" stroke-dasharray="34.6 30"/>
<path d="M1487.6,732.6 H1653" stroke="#0000ff" stroke-dasharray="34.6 30"/>
<path d="M1487.6,797.4 H1653" stroke="#ff0000" stroke-dasharray="34.6 30"/>
<path d="M1487.6,865.9 H1653" stroke="#00ff00" stroke-dasharray="34.6 30"/>
</g>
</svg>
</body>
</html>
